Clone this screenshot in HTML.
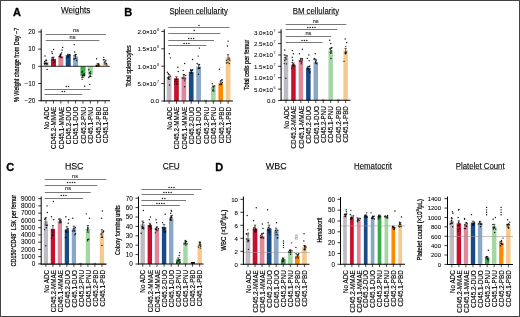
<!DOCTYPE html>
<html><head><meta charset="utf-8"><style>html,body{margin:0;padding:0;background:#fff;}svg{display:block;will-change:transform;}</style></head>
<body><svg width="520" height="317" viewBox="0 0 520 317" font-family='"Liberation Sans", sans-serif'>
<rect x="0" y="0" width="520" height="317" fill="#fff"/>
<text x="13.00" y="15.90" font-size="11" text-anchor="start" font-weight="bold" fill="#000" stroke="#000" stroke-width="0.3">A</text>
<text x="124.30" y="15.90" font-size="11" text-anchor="start" font-weight="bold" fill="#000" stroke="#000" stroke-width="0.3">B</text>
<text x="6.30" y="170.60" font-size="11" text-anchor="start" font-weight="bold" fill="#000" stroke="#000" stroke-width="0.3">C</text>
<text x="215.20" y="170.60" font-size="11" text-anchor="start" font-weight="bold" fill="#000" stroke="#000" stroke-width="0.3">D</text>
<rect x="43.60" y="62.00" width="5.00" height="4.30" fill="#bdbcc2"/>
<rect x="50.98" y="58.90" width="5.00" height="7.40" fill="#c8102e"/>
<rect x="58.35" y="55.98" width="5.00" height="10.32" fill="#e0889a"/>
<rect x="65.72" y="55.12" width="5.00" height="11.18" fill="#184b86"/>
<rect x="73.10" y="56.50" width="5.00" height="9.80" fill="#89a8c8"/>
<rect x="80.47" y="66.30" width="5.00" height="9.80" fill="#3aab48"/>
<rect x="87.85" y="66.30" width="5.00" height="8.60" fill="#a3d7a3"/>
<rect x="95.22" y="64.58" width="5.00" height="1.72" fill="#ff8a00"/>
<rect x="102.60" y="62.86" width="5.00" height="3.44" fill="#f7c98c"/>
<circle cx="44.96" cy="55.98" r="0.72" fill="#151515"/>
<circle cx="46.14" cy="59.94" r="0.72" fill="#151515"/>
<circle cx="46.57" cy="63.89" r="0.72" fill="#151515"/>
<circle cx="47.15" cy="69.40" r="0.72" fill="#151515"/>
<circle cx="44.64" cy="63.97" r="0.72" fill="#151515"/>
<circle cx="45.39" cy="63.41" r="0.72" fill="#151515"/>
<circle cx="44.63" cy="61.53" r="0.72" fill="#151515"/>
<circle cx="47.21" cy="63.90" r="0.72" fill="#151515"/>
<circle cx="46.80" cy="63.68" r="0.72" fill="#151515"/>
<circle cx="44.45" cy="63.27" r="0.72" fill="#151515"/>
<line x1="46.10" y1="60.48" x2="46.10" y2="63.52" stroke="#000" stroke-width="0.6"/>
<line x1="44.90" y1="60.48" x2="47.30" y2="60.48" stroke="#000" stroke-width="0.6"/>
<line x1="44.90" y1="63.52" x2="47.30" y2="63.52" stroke="#000" stroke-width="0.6"/>
<circle cx="53.58" cy="49.44" r="0.72" fill="#151515"/>
<circle cx="51.89" cy="51.68" r="0.72" fill="#151515"/>
<circle cx="52.36" cy="53.57" r="0.72" fill="#151515"/>
<circle cx="52.55" cy="57.79" r="0.72" fill="#151515"/>
<circle cx="51.78" cy="57.88" r="0.72" fill="#151515"/>
<circle cx="53.35" cy="59.49" r="0.72" fill="#151515"/>
<circle cx="53.26" cy="59.68" r="0.72" fill="#151515"/>
<circle cx="54.71" cy="62.05" r="0.72" fill="#151515"/>
<circle cx="53.54" cy="62.78" r="0.72" fill="#151515"/>
<line x1="53.48" y1="57.08" x2="53.48" y2="60.73" stroke="#000" stroke-width="0.6"/>
<line x1="52.27" y1="57.08" x2="54.68" y2="57.08" stroke="#000" stroke-width="0.6"/>
<line x1="52.27" y1="60.73" x2="54.68" y2="60.73" stroke="#000" stroke-width="0.6"/>
<circle cx="62.63" cy="47.38" r="0.72" fill="#151515"/>
<circle cx="62.07" cy="49.96" r="0.72" fill="#151515"/>
<circle cx="61.60" cy="52.88" r="0.72" fill="#151515"/>
<circle cx="60.18" cy="55.81" r="0.72" fill="#151515"/>
<circle cx="59.88" cy="56.41" r="0.72" fill="#151515"/>
<circle cx="60.09" cy="55.71" r="0.72" fill="#151515"/>
<circle cx="59.30" cy="56.59" r="0.72" fill="#151515"/>
<circle cx="61.81" cy="57.36" r="0.72" fill="#151515"/>
<circle cx="60.49" cy="54.27" r="0.72" fill="#151515"/>
<line x1="60.85" y1="54.16" x2="60.85" y2="57.80" stroke="#000" stroke-width="0.6"/>
<line x1="59.65" y1="54.16" x2="62.05" y2="54.16" stroke="#000" stroke-width="0.6"/>
<line x1="59.65" y1="57.80" x2="62.05" y2="57.80" stroke="#000" stroke-width="0.6"/>
<circle cx="69.70" cy="55.08" r="0.72" fill="#151515"/>
<circle cx="68.12" cy="56.50" r="0.72" fill="#151515"/>
<circle cx="69.95" cy="54.73" r="0.72" fill="#151515"/>
<circle cx="67.86" cy="55.08" r="0.72" fill="#151515"/>
<circle cx="66.69" cy="57.70" r="0.72" fill="#151515"/>
<circle cx="68.69" cy="57.05" r="0.72" fill="#151515"/>
<line x1="68.22" y1="54.21" x2="68.22" y2="56.03" stroke="#000" stroke-width="0.6"/>
<line x1="67.02" y1="54.21" x2="69.42" y2="54.21" stroke="#000" stroke-width="0.6"/>
<line x1="67.02" y1="56.03" x2="69.42" y2="56.03" stroke="#000" stroke-width="0.6"/>
<circle cx="74.22" cy="44.63" r="0.72" fill="#151515"/>
<circle cx="74.69" cy="52.02" r="0.72" fill="#151515"/>
<circle cx="74.16" cy="55.78" r="0.72" fill="#151515"/>
<circle cx="74.02" cy="59.28" r="0.72" fill="#151515"/>
<circle cx="76.67" cy="60.54" r="0.72" fill="#151515"/>
<circle cx="74.44" cy="58.85" r="0.72" fill="#151515"/>
<circle cx="75.81" cy="54.51" r="0.72" fill="#151515"/>
<circle cx="75.41" cy="55.92" r="0.72" fill="#151515"/>
<line x1="75.60" y1="54.37" x2="75.60" y2="58.62" stroke="#000" stroke-width="0.6"/>
<line x1="74.40" y1="54.37" x2="76.80" y2="54.37" stroke="#000" stroke-width="0.6"/>
<line x1="74.40" y1="58.62" x2="76.80" y2="58.62" stroke="#000" stroke-width="0.6"/>
<circle cx="81.94" cy="77.31" r="0.72" fill="#151515"/>
<circle cx="82.15" cy="79.37" r="0.72" fill="#151515"/>
<circle cx="84.67" cy="86.25" r="0.72" fill="#151515"/>
<circle cx="84.07" cy="75.31" r="0.72" fill="#151515"/>
<circle cx="82.27" cy="71.58" r="0.72" fill="#151515"/>
<circle cx="84.36" cy="75.72" r="0.72" fill="#151515"/>
<circle cx="81.93" cy="72.19" r="0.72" fill="#151515"/>
<circle cx="82.59" cy="75.82" r="0.72" fill="#151515"/>
<circle cx="84.25" cy="73.73" r="0.72" fill="#151515"/>
<line x1="82.97" y1="74.58" x2="82.97" y2="77.62" stroke="#000" stroke-width="0.6"/>
<line x1="81.77" y1="74.58" x2="84.17" y2="74.58" stroke="#000" stroke-width="0.6"/>
<line x1="81.77" y1="77.62" x2="84.17" y2="77.62" stroke="#000" stroke-width="0.6"/>
<circle cx="89.73" cy="84.36" r="0.72" fill="#151515"/>
<circle cx="89.62" cy="72.82" r="0.72" fill="#151515"/>
<circle cx="88.81" cy="77.48" r="0.72" fill="#151515"/>
<circle cx="88.87" cy="69.83" r="0.72" fill="#151515"/>
<circle cx="90.65" cy="76.51" r="0.72" fill="#151515"/>
<circle cx="89.42" cy="76.12" r="0.72" fill="#151515"/>
<circle cx="90.71" cy="71.69" r="0.72" fill="#151515"/>
<line x1="90.35" y1="73.38" x2="90.35" y2="76.42" stroke="#000" stroke-width="0.6"/>
<line x1="89.15" y1="73.38" x2="91.55" y2="73.38" stroke="#000" stroke-width="0.6"/>
<line x1="89.15" y1="76.42" x2="91.55" y2="76.42" stroke="#000" stroke-width="0.6"/>
<circle cx="96.58" cy="58.73" r="0.72" fill="#151515"/>
<circle cx="96.48" cy="66.38" r="0.72" fill="#151515"/>
<circle cx="99.20" cy="66.06" r="0.72" fill="#151515"/>
<circle cx="98.87" cy="64.05" r="0.72" fill="#151515"/>
<circle cx="96.82" cy="65.93" r="0.72" fill="#151515"/>
<circle cx="96.61" cy="65.57" r="0.72" fill="#151515"/>
<circle cx="98.59" cy="64.42" r="0.72" fill="#151515"/>
<line x1="97.72" y1="63.36" x2="97.72" y2="65.80" stroke="#000" stroke-width="0.6"/>
<line x1="96.52" y1="63.36" x2="98.92" y2="63.36" stroke="#000" stroke-width="0.6"/>
<line x1="96.52" y1="65.80" x2="98.92" y2="65.80" stroke="#000" stroke-width="0.6"/>
<circle cx="103.67" cy="57.36" r="0.72" fill="#151515"/>
<circle cx="103.44" cy="59.83" r="0.72" fill="#151515"/>
<circle cx="106.77" cy="64.95" r="0.72" fill="#151515"/>
<circle cx="104.16" cy="59.76" r="0.72" fill="#151515"/>
<circle cx="105.84" cy="60.23" r="0.72" fill="#151515"/>
<circle cx="104.23" cy="62.15" r="0.72" fill="#151515"/>
<circle cx="106.27" cy="63.40" r="0.72" fill="#151515"/>
<line x1="105.10" y1="61.64" x2="105.10" y2="64.08" stroke="#000" stroke-width="0.6"/>
<line x1="103.90" y1="61.64" x2="106.30" y2="61.64" stroke="#000" stroke-width="0.6"/>
<line x1="103.90" y1="64.08" x2="106.30" y2="64.08" stroke="#000" stroke-width="0.6"/>
<line x1="41.20" y1="66.30" x2="109.80" y2="66.30" stroke="#000" stroke-width="0.8"/>
<line x1="41.20" y1="29.30" x2="41.20" y2="101.30" stroke="#000" stroke-width="1.0"/>
<line x1="40.70" y1="100.80" x2="110.00" y2="100.80" stroke="#000" stroke-width="1.05"/>
<line x1="38.20" y1="31.90" x2="41.20" y2="31.90" stroke="#000" stroke-width="0.8"/>
<text x="35.40" y="34.20" font-size="6.4" text-anchor="end" font-weight="normal" fill="#000" stroke="#000" stroke-width="0.06">20</text>
<line x1="38.20" y1="49.10" x2="41.20" y2="49.10" stroke="#000" stroke-width="0.8"/>
<text x="35.40" y="51.40" font-size="6.4" text-anchor="end" font-weight="normal" fill="#000" stroke="#000" stroke-width="0.06">10</text>
<line x1="38.20" y1="66.30" x2="41.20" y2="66.30" stroke="#000" stroke-width="0.8"/>
<text x="35.40" y="68.60" font-size="6.4" text-anchor="end" font-weight="normal" fill="#000" stroke="#000" stroke-width="0.06">0</text>
<line x1="38.20" y1="83.50" x2="41.20" y2="83.50" stroke="#000" stroke-width="0.8"/>
<text x="35.40" y="85.80" font-size="6.4" text-anchor="end" font-weight="normal" fill="#000" stroke="#000" stroke-width="0.06">−10</text>
<line x1="38.20" y1="100.70" x2="41.20" y2="100.70" stroke="#000" stroke-width="0.8"/>
<text x="35.40" y="103.00" font-size="6.4" text-anchor="end" font-weight="normal" fill="#000" stroke="#000" stroke-width="0.06">−20</text>
<line x1="46.10" y1="100.80" x2="46.10" y2="103.60" stroke="#000" stroke-width="0.7"/>
<line x1="53.48" y1="100.80" x2="53.48" y2="103.60" stroke="#000" stroke-width="0.7"/>
<line x1="60.85" y1="100.80" x2="60.85" y2="103.60" stroke="#000" stroke-width="0.7"/>
<line x1="68.22" y1="100.80" x2="68.22" y2="103.60" stroke="#000" stroke-width="0.7"/>
<line x1="75.60" y1="100.80" x2="75.60" y2="103.60" stroke="#000" stroke-width="0.7"/>
<line x1="82.97" y1="100.80" x2="82.97" y2="103.60" stroke="#000" stroke-width="0.7"/>
<line x1="90.35" y1="100.80" x2="90.35" y2="103.60" stroke="#000" stroke-width="0.7"/>
<line x1="97.72" y1="100.80" x2="97.72" y2="103.60" stroke="#000" stroke-width="0.7"/>
<line x1="105.10" y1="100.80" x2="105.10" y2="103.60" stroke="#000" stroke-width="0.7"/>
<text x="48.90" y="106.70" font-size="6.3" text-anchor="end" font-weight="normal" fill="#000" transform="rotate(-90 48.90 106.70)" stroke="#000" stroke-width="0.15">No ADC</text>
<text x="56.27" y="106.70" font-size="6.3" text-anchor="end" font-weight="normal" fill="#000" transform="rotate(-90 56.27 106.70)" stroke="#000" stroke-width="0.15">CD45.2-MMAE</text>
<text x="63.65" y="106.70" font-size="6.3" text-anchor="end" font-weight="normal" fill="#000" transform="rotate(-90 63.65 106.70)" stroke="#000" stroke-width="0.15">CD45.1-MMAE</text>
<text x="71.02" y="106.70" font-size="6.3" text-anchor="end" font-weight="normal" fill="#000" transform="rotate(-90 71.02 106.70)" stroke="#000" stroke-width="0.15">CD45.2-DUO</text>
<text x="78.40" y="106.70" font-size="6.3" text-anchor="end" font-weight="normal" fill="#000" transform="rotate(-90 78.40 106.70)" stroke="#000" stroke-width="0.15">CD45.1-DUO</text>
<text x="85.77" y="106.70" font-size="6.3" text-anchor="end" font-weight="normal" fill="#000" transform="rotate(-90 85.77 106.70)" stroke="#000" stroke-width="0.15">CD45.2-PNU</text>
<text x="93.15" y="106.70" font-size="6.3" text-anchor="end" font-weight="normal" fill="#000" transform="rotate(-90 93.15 106.70)" stroke="#000" stroke-width="0.15">CD45.1-PNU</text>
<text x="100.52" y="106.70" font-size="6.3" text-anchor="end" font-weight="normal" fill="#000" transform="rotate(-90 100.52 106.70)" stroke="#000" stroke-width="0.15">CD45.2-PBD</text>
<text x="107.90" y="106.70" font-size="6.3" text-anchor="end" font-weight="normal" fill="#000" transform="rotate(-90 107.90 106.70)" stroke="#000" stroke-width="0.15">CD45.1-PBD</text>
<text x="61.00" y="13.20" font-size="8.3" text-anchor="start" font-weight="normal" fill="#000" textLength="29.30" lengthAdjust="spacingAndGlyphs" stroke="#000" stroke-width="0.1">Weights</text>
<line x1="61.30" y1="13.80" x2="90.00" y2="13.80" stroke="#888" stroke-width="0.7"/>
<text x="19.20" y="64.85" font-size="6.8" text-anchor="middle" font-weight="normal" fill="#000" textLength="74.50" lengthAdjust="spacingAndGlyphs" transform="rotate(-90 19.20 64.85)" stroke="#000" stroke-width="0.22">% Weight change from Day −7</text>
<line x1="45.70" y1="34.50" x2="106.00" y2="34.50" stroke="#7a7a7a" stroke-width="1.0"/>
<text x="76.00" y="32.40" font-size="5.6" text-anchor="middle" font-weight="normal" fill="#333" stroke="#333" stroke-width="0.15">ns</text>
<line x1="45.70" y1="40.50" x2="99.40" y2="40.50" stroke="#7a7a7a" stroke-width="1.0"/>
<text x="72.50" y="38.50" font-size="5.6" text-anchor="middle" font-weight="normal" fill="#333" stroke="#333" stroke-width="0.15">ns</text>
<line x1="44.50" y1="89.50" x2="90.50" y2="89.50" stroke="#7a7a7a" stroke-width="1.0"/>
<circle cx="66.30" cy="86.50" r="0.78" fill="#222"/>
<circle cx="68.50" cy="86.50" r="0.78" fill="#222"/>
<line x1="44.50" y1="94.50" x2="82.30" y2="94.50" stroke="#7a7a7a" stroke-width="1.0"/>
<circle cx="62.30" cy="91.50" r="0.78" fill="#222"/>
<circle cx="64.50" cy="91.50" r="0.78" fill="#222"/>
<rect x="166.75" y="76.99" width="4.70" height="24.01" fill="#bdbcc2"/>
<rect x="174.12" y="78.21" width="4.70" height="22.79" fill="#c8102e"/>
<rect x="181.50" y="76.64" width="4.70" height="24.36" fill="#e0889a"/>
<rect x="188.88" y="71.77" width="4.70" height="29.23" fill="#184b86"/>
<rect x="196.25" y="66.55" width="4.70" height="34.45" fill="#89a8c8"/>
<rect x="211.00" y="87.08" width="4.70" height="13.92" fill="#a3d7a3"/>
<rect x="218.38" y="83.25" width="4.70" height="17.75" fill="#ff8a00"/>
<rect x="225.75" y="57.15" width="4.70" height="43.85" fill="#f7c98c"/>
<circle cx="169.31" cy="53.67" r="0.72" fill="#151515"/>
<circle cx="170.37" cy="57.85" r="0.72" fill="#151515"/>
<circle cx="169.51" cy="84.99" r="0.72" fill="#151515"/>
<circle cx="168.31" cy="73.47" r="0.72" fill="#151515"/>
<circle cx="170.60" cy="76.32" r="0.72" fill="#151515"/>
<circle cx="168.03" cy="77.43" r="0.72" fill="#151515"/>
<circle cx="167.36" cy="72.31" r="0.72" fill="#151515"/>
<circle cx="168.27" cy="78.43" r="0.72" fill="#151515"/>
<circle cx="168.90" cy="76.93" r="0.72" fill="#151515"/>
<line x1="169.10" y1="74.53" x2="169.10" y2="79.45" stroke="#000" stroke-width="0.6"/>
<line x1="167.90" y1="74.53" x2="170.30" y2="74.53" stroke="#000" stroke-width="0.6"/>
<line x1="167.90" y1="79.45" x2="170.30" y2="79.45" stroke="#000" stroke-width="0.6"/>
<circle cx="177.88" cy="67.24" r="0.72" fill="#151515"/>
<circle cx="178.20" cy="71.42" r="0.72" fill="#151515"/>
<circle cx="177.04" cy="84.47" r="0.72" fill="#151515"/>
<circle cx="177.16" cy="83.46" r="0.72" fill="#151515"/>
<circle cx="176.78" cy="81.78" r="0.72" fill="#151515"/>
<circle cx="175.18" cy="80.01" r="0.72" fill="#151515"/>
<circle cx="174.80" cy="83.85" r="0.72" fill="#151515"/>
<circle cx="174.74" cy="81.84" r="0.72" fill="#151515"/>
<line x1="176.47" y1="76.73" x2="176.47" y2="79.68" stroke="#000" stroke-width="0.6"/>
<line x1="175.28" y1="76.73" x2="177.67" y2="76.73" stroke="#000" stroke-width="0.6"/>
<line x1="175.28" y1="79.68" x2="177.67" y2="79.68" stroke="#000" stroke-width="0.6"/>
<circle cx="184.68" cy="63.42" r="0.72" fill="#151515"/>
<circle cx="183.20" cy="70.38" r="0.72" fill="#151515"/>
<circle cx="185.65" cy="75.36" r="0.72" fill="#151515"/>
<circle cx="182.32" cy="78.05" r="0.72" fill="#151515"/>
<circle cx="184.02" cy="74.68" r="0.72" fill="#151515"/>
<circle cx="184.70" cy="86.81" r="0.72" fill="#151515"/>
<circle cx="185.29" cy="78.89" r="0.72" fill="#151515"/>
<circle cx="184.70" cy="80.87" r="0.72" fill="#151515"/>
<line x1="183.85" y1="74.55" x2="183.85" y2="78.73" stroke="#000" stroke-width="0.6"/>
<line x1="182.65" y1="74.55" x2="185.05" y2="74.55" stroke="#000" stroke-width="0.6"/>
<line x1="182.65" y1="78.73" x2="185.05" y2="78.73" stroke="#000" stroke-width="0.6"/>
<circle cx="192.56" cy="59.59" r="0.72" fill="#151515"/>
<circle cx="190.93" cy="70.78" r="0.72" fill="#151515"/>
<circle cx="192.27" cy="70.34" r="0.72" fill="#151515"/>
<circle cx="192.53" cy="69.75" r="0.72" fill="#151515"/>
<circle cx="191.49" cy="72.49" r="0.72" fill="#151515"/>
<circle cx="191.67" cy="70.87" r="0.72" fill="#151515"/>
<circle cx="190.80" cy="69.82" r="0.72" fill="#151515"/>
<line x1="191.22" y1="70.29" x2="191.22" y2="73.24" stroke="#000" stroke-width="0.6"/>
<line x1="190.03" y1="70.29" x2="192.42" y2="70.29" stroke="#000" stroke-width="0.6"/>
<line x1="190.03" y1="73.24" x2="192.42" y2="73.24" stroke="#000" stroke-width="0.6"/>
<circle cx="199.42" cy="48.10" r="0.72" fill="#151515"/>
<circle cx="198.20" cy="56.11" r="0.72" fill="#151515"/>
<circle cx="199.45" cy="68.35" r="0.72" fill="#151515"/>
<circle cx="198.89" cy="68.04" r="0.72" fill="#151515"/>
<circle cx="198.39" cy="74.30" r="0.72" fill="#151515"/>
<circle cx="199.82" cy="67.68" r="0.72" fill="#151515"/>
<circle cx="197.10" cy="63.50" r="0.72" fill="#151515"/>
<circle cx="199.50" cy="64.84" r="0.72" fill="#151515"/>
<line x1="198.60" y1="64.33" x2="198.60" y2="68.76" stroke="#000" stroke-width="0.6"/>
<line x1="197.40" y1="64.33" x2="199.80" y2="64.33" stroke="#000" stroke-width="0.6"/>
<line x1="197.40" y1="68.76" x2="199.80" y2="68.76" stroke="#000" stroke-width="0.6"/>
<circle cx="204.56" cy="100.38" r="0.55" fill="#3aab48"/>
<circle cx="205.92" cy="100.64" r="0.55" fill="#3aab48"/>
<circle cx="206.57" cy="100.45" r="0.55" fill="#3aab48"/>
<circle cx="206.32" cy="100.16" r="0.55" fill="#3aab48"/>
<circle cx="205.24" cy="100.79" r="0.55" fill="#3aab48"/>
<circle cx="213.14" cy="89.71" r="0.72" fill="#151515"/>
<circle cx="214.76" cy="86.04" r="0.72" fill="#151515"/>
<circle cx="212.73" cy="90.67" r="0.72" fill="#151515"/>
<circle cx="213.95" cy="91.00" r="0.72" fill="#151515"/>
<circle cx="212.26" cy="83.82" r="0.72" fill="#151515"/>
<circle cx="213.10" cy="86.22" r="0.72" fill="#151515"/>
<line x1="213.35" y1="86.10" x2="213.35" y2="88.06" stroke="#000" stroke-width="0.6"/>
<line x1="212.15" y1="86.10" x2="214.55" y2="86.10" stroke="#000" stroke-width="0.6"/>
<line x1="212.15" y1="88.06" x2="214.55" y2="88.06" stroke="#000" stroke-width="0.6"/>
<circle cx="219.42" cy="69.33" r="0.72" fill="#151515"/>
<circle cx="220.71" cy="80.63" r="0.72" fill="#151515"/>
<circle cx="221.94" cy="79.76" r="0.72" fill="#151515"/>
<circle cx="221.98" cy="80.03" r="0.72" fill="#151515"/>
<circle cx="221.49" cy="84.00" r="0.72" fill="#151515"/>
<circle cx="222.35" cy="82.41" r="0.72" fill="#151515"/>
<circle cx="219.92" cy="84.55" r="0.72" fill="#151515"/>
<line x1="220.72" y1="81.78" x2="220.72" y2="84.73" stroke="#000" stroke-width="0.6"/>
<line x1="219.53" y1="81.78" x2="221.92" y2="81.78" stroke="#000" stroke-width="0.6"/>
<line x1="219.53" y1="84.73" x2="221.92" y2="84.73" stroke="#000" stroke-width="0.6"/>
<circle cx="228.08" cy="41.14" r="0.72" fill="#151515"/>
<circle cx="227.44" cy="46.02" r="0.72" fill="#151515"/>
<circle cx="229.32" cy="63.50" r="0.72" fill="#151515"/>
<circle cx="229.84" cy="60.17" r="0.72" fill="#151515"/>
<circle cx="227.93" cy="62.25" r="0.72" fill="#151515"/>
<circle cx="226.57" cy="62.97" r="0.72" fill="#151515"/>
<circle cx="226.41" cy="60.61" r="0.72" fill="#151515"/>
<circle cx="229.44" cy="58.10" r="0.72" fill="#151515"/>
<line x1="228.10" y1="54.69" x2="228.10" y2="59.61" stroke="#000" stroke-width="0.6"/>
<line x1="226.90" y1="54.69" x2="229.30" y2="54.69" stroke="#000" stroke-width="0.6"/>
<line x1="226.90" y1="59.61" x2="229.30" y2="59.61" stroke="#000" stroke-width="0.6"/>
<line x1="164.30" y1="29.30" x2="164.30" y2="101.50" stroke="#000" stroke-width="1.0"/>
<line x1="163.80" y1="101.00" x2="233.00" y2="101.00" stroke="#000" stroke-width="1.05"/>
<line x1="161.30" y1="101.00" x2="164.30" y2="101.00" stroke="#000" stroke-width="0.8"/>
<text x="159.00" y="103.30" font-size="6.2" text-anchor="end" font-weight="normal" fill="#000" stroke="#000" stroke-width="0.06">0.0</text>
<line x1="161.30" y1="83.60" x2="164.30" y2="83.60" stroke="#000" stroke-width="0.8"/>
<text x="156.50" y="86.00" font-size="6.2" text-anchor="end" font-weight="normal" fill="#000" stroke="#000" stroke-width="0.06">5.0×10</text>
<text x="159.00" y="83.00" font-size="3.6" text-anchor="end" font-weight="normal" fill="#000">7</text>
<line x1="161.30" y1="66.20" x2="164.30" y2="66.20" stroke="#000" stroke-width="0.8"/>
<text x="156.50" y="68.60" font-size="6.2" text-anchor="end" font-weight="normal" fill="#000" stroke="#000" stroke-width="0.06">1.0×10</text>
<text x="159.00" y="65.60" font-size="3.6" text-anchor="end" font-weight="normal" fill="#000">8</text>
<line x1="161.30" y1="48.80" x2="164.30" y2="48.80" stroke="#000" stroke-width="0.8"/>
<text x="156.50" y="51.20" font-size="6.2" text-anchor="end" font-weight="normal" fill="#000" stroke="#000" stroke-width="0.06">1.5×10</text>
<text x="159.00" y="48.20" font-size="3.6" text-anchor="end" font-weight="normal" fill="#000">8</text>
<line x1="161.30" y1="31.40" x2="164.30" y2="31.40" stroke="#000" stroke-width="0.8"/>
<text x="156.50" y="33.80" font-size="6.2" text-anchor="end" font-weight="normal" fill="#000" stroke="#000" stroke-width="0.06">2.0×10</text>
<text x="159.00" y="30.80" font-size="3.6" text-anchor="end" font-weight="normal" fill="#000">8</text>
<line x1="169.10" y1="101.00" x2="169.10" y2="103.80" stroke="#000" stroke-width="0.7"/>
<line x1="176.47" y1="101.00" x2="176.47" y2="103.80" stroke="#000" stroke-width="0.7"/>
<line x1="183.85" y1="101.00" x2="183.85" y2="103.80" stroke="#000" stroke-width="0.7"/>
<line x1="191.22" y1="101.00" x2="191.22" y2="103.80" stroke="#000" stroke-width="0.7"/>
<line x1="198.60" y1="101.00" x2="198.60" y2="103.80" stroke="#000" stroke-width="0.7"/>
<line x1="205.97" y1="101.00" x2="205.97" y2="103.80" stroke="#000" stroke-width="0.7"/>
<line x1="213.35" y1="101.00" x2="213.35" y2="103.80" stroke="#000" stroke-width="0.7"/>
<line x1="220.72" y1="101.00" x2="220.72" y2="103.80" stroke="#000" stroke-width="0.7"/>
<line x1="228.10" y1="101.00" x2="228.10" y2="103.80" stroke="#000" stroke-width="0.7"/>
<text x="171.90" y="106.90" font-size="6.3" text-anchor="end" font-weight="normal" fill="#000" transform="rotate(-90 171.90 106.90)" stroke="#000" stroke-width="0.15">No ADC</text>
<text x="179.28" y="106.90" font-size="6.3" text-anchor="end" font-weight="normal" fill="#000" transform="rotate(-90 179.28 106.90)" stroke="#000" stroke-width="0.15">CD45.2-MMAE</text>
<text x="186.65" y="106.90" font-size="6.3" text-anchor="end" font-weight="normal" fill="#000" transform="rotate(-90 186.65 106.90)" stroke="#000" stroke-width="0.15">CD45.1-MMAE</text>
<text x="194.03" y="106.90" font-size="6.3" text-anchor="end" font-weight="normal" fill="#000" transform="rotate(-90 194.03 106.90)" stroke="#000" stroke-width="0.15">CD45.2-DUO</text>
<text x="201.40" y="106.90" font-size="6.3" text-anchor="end" font-weight="normal" fill="#000" transform="rotate(-90 201.40 106.90)" stroke="#000" stroke-width="0.15">CD45.1-DUO</text>
<text x="208.78" y="106.90" font-size="6.3" text-anchor="end" font-weight="normal" fill="#000" transform="rotate(-90 208.78 106.90)" stroke="#000" stroke-width="0.15">CD45.2-PNU</text>
<text x="216.15" y="106.90" font-size="6.3" text-anchor="end" font-weight="normal" fill="#000" transform="rotate(-90 216.15 106.90)" stroke="#000" stroke-width="0.15">CD45.1-PNU</text>
<text x="223.53" y="106.90" font-size="6.3" text-anchor="end" font-weight="normal" fill="#000" transform="rotate(-90 223.53 106.90)" stroke="#000" stroke-width="0.15">CD45.2-PBD</text>
<text x="230.90" y="106.90" font-size="6.3" text-anchor="end" font-weight="normal" fill="#000" transform="rotate(-90 230.90 106.90)" stroke="#000" stroke-width="0.15">CD45.1-PBD</text>
<text x="169.40" y="13.70" font-size="8.3" text-anchor="start" font-weight="normal" fill="#000" textLength="58.50" lengthAdjust="spacingAndGlyphs" stroke="#000" stroke-width="0.1">Spleen cellularity</text>
<line x1="169.70" y1="14.30" x2="227.60" y2="14.30" stroke="#888" stroke-width="0.7"/>
<text x="130.90" y="65.95" font-size="6.8" text-anchor="middle" font-weight="normal" fill="#000" textLength="41.50" lengthAdjust="spacingAndGlyphs" transform="rotate(-90 130.90 65.95)" stroke="#000" stroke-width="0.22">Total splenocytes</text>
<line x1="168.30" y1="27.50" x2="229.70" y2="27.50" stroke="#7a7a7a" stroke-width="1.0"/>
<circle cx="199.00" cy="25.50" r="0.78" fill="#222"/>
<line x1="168.30" y1="33.50" x2="220.30" y2="33.50" stroke="#7a7a7a" stroke-width="1.0"/>
<circle cx="194.30" cy="30.50" r="0.78" fill="#222"/>
<line x1="168.30" y1="40.50" x2="214.00" y2="40.50" stroke="#7a7a7a" stroke-width="1.0"/>
<circle cx="188.80" cy="38.50" r="0.78" fill="#222"/>
<circle cx="191.20" cy="38.50" r="0.78" fill="#222"/>
<circle cx="193.60" cy="38.50" r="0.78" fill="#222"/>
<line x1="168.30" y1="45.50" x2="206.40" y2="45.50" stroke="#7a7a7a" stroke-width="1.0"/>
<circle cx="184.10" cy="43.50" r="0.78" fill="#222"/>
<circle cx="186.50" cy="43.50" r="0.78" fill="#222"/>
<circle cx="188.90" cy="43.50" r="0.78" fill="#222"/>
<rect x="283.75" y="57.24" width="4.50" height="43.26" fill="#bdbcc2"/>
<rect x="291.20" y="64.76" width="4.50" height="35.74" fill="#c8102e"/>
<rect x="298.65" y="59.98" width="4.50" height="40.52" fill="#e0889a"/>
<rect x="306.10" y="67.94" width="4.50" height="32.56" fill="#184b86"/>
<rect x="313.55" y="62.02" width="4.50" height="38.48" fill="#89a8c8"/>
<rect x="328.45" y="50.41" width="4.50" height="50.09" fill="#a3d7a3"/>
<rect x="343.35" y="50.41" width="4.50" height="50.09" fill="#f7c98c"/>
<circle cx="284.69" cy="49.96" r="0.72" fill="#151515"/>
<circle cx="285.84" cy="78.19" r="0.72" fill="#151515"/>
<circle cx="284.29" cy="63.60" r="0.72" fill="#151515"/>
<circle cx="287.19" cy="56.01" r="0.72" fill="#151515"/>
<circle cx="285.05" cy="57.58" r="0.72" fill="#151515"/>
<circle cx="284.71" cy="60.56" r="0.72" fill="#151515"/>
<circle cx="284.37" cy="55.06" r="0.72" fill="#151515"/>
<circle cx="286.47" cy="63.86" r="0.72" fill="#151515"/>
<line x1="286.00" y1="55.23" x2="286.00" y2="59.26" stroke="#000" stroke-width="0.6"/>
<line x1="284.80" y1="55.23" x2="287.20" y2="55.23" stroke="#000" stroke-width="0.6"/>
<line x1="284.80" y1="59.26" x2="287.20" y2="59.26" stroke="#000" stroke-width="0.6"/>
<circle cx="292.37" cy="50.41" r="0.72" fill="#151515"/>
<circle cx="293.36" cy="53.83" r="0.72" fill="#151515"/>
<circle cx="292.29" cy="57.24" r="0.72" fill="#151515"/>
<circle cx="291.69" cy="68.34" r="0.72" fill="#151515"/>
<circle cx="293.35" cy="65.42" r="0.72" fill="#151515"/>
<circle cx="294.22" cy="65.02" r="0.72" fill="#151515"/>
<circle cx="292.29" cy="62.59" r="0.72" fill="#151515"/>
<circle cx="292.63" cy="60.18" r="0.72" fill="#151515"/>
<circle cx="292.89" cy="64.55" r="0.72" fill="#151515"/>
<line x1="293.45" y1="63.15" x2="293.45" y2="66.37" stroke="#000" stroke-width="0.6"/>
<line x1="292.25" y1="63.15" x2="294.65" y2="63.15" stroke="#000" stroke-width="0.6"/>
<line x1="292.25" y1="66.37" x2="294.65" y2="66.37" stroke="#000" stroke-width="0.6"/>
<circle cx="302.36" cy="49.28" r="0.72" fill="#151515"/>
<circle cx="299.41" cy="53.83" r="0.72" fill="#151515"/>
<circle cx="302.46" cy="59.90" r="0.72" fill="#151515"/>
<circle cx="301.70" cy="62.11" r="0.72" fill="#151515"/>
<circle cx="299.57" cy="60.93" r="0.72" fill="#151515"/>
<circle cx="300.73" cy="59.16" r="0.72" fill="#151515"/>
<circle cx="301.35" cy="63.70" r="0.72" fill="#151515"/>
<circle cx="302.38" cy="58.71" r="0.72" fill="#151515"/>
<line x1="300.90" y1="58.37" x2="300.90" y2="61.59" stroke="#000" stroke-width="0.6"/>
<line x1="299.70" y1="58.37" x2="302.10" y2="58.37" stroke="#000" stroke-width="0.6"/>
<line x1="299.70" y1="61.59" x2="302.10" y2="61.59" stroke="#000" stroke-width="0.6"/>
<circle cx="308.89" cy="54.97" r="0.72" fill="#151515"/>
<circle cx="307.29" cy="58.38" r="0.72" fill="#151515"/>
<circle cx="309.15" cy="60.66" r="0.72" fill="#151515"/>
<circle cx="309.50" cy="73.02" r="0.72" fill="#151515"/>
<circle cx="308.86" cy="70.61" r="0.72" fill="#151515"/>
<circle cx="309.13" cy="66.72" r="0.72" fill="#151515"/>
<circle cx="307.32" cy="67.76" r="0.72" fill="#151515"/>
<circle cx="309.79" cy="65.91" r="0.72" fill="#151515"/>
<circle cx="310.08" cy="71.93" r="0.72" fill="#151515"/>
<line x1="308.35" y1="66.33" x2="308.35" y2="69.55" stroke="#000" stroke-width="0.6"/>
<line x1="307.15" y1="66.33" x2="309.55" y2="66.33" stroke="#000" stroke-width="0.6"/>
<line x1="307.15" y1="69.55" x2="309.55" y2="69.55" stroke="#000" stroke-width="0.6"/>
<circle cx="315.25" cy="53.83" r="0.72" fill="#151515"/>
<circle cx="314.30" cy="58.56" r="0.72" fill="#151515"/>
<circle cx="315.59" cy="62.07" r="0.72" fill="#151515"/>
<circle cx="315.98" cy="60.05" r="0.72" fill="#151515"/>
<circle cx="316.77" cy="63.80" r="0.72" fill="#151515"/>
<circle cx="315.75" cy="59.10" r="0.72" fill="#151515"/>
<circle cx="314.10" cy="59.53" r="0.72" fill="#151515"/>
<line x1="315.80" y1="60.82" x2="315.80" y2="63.23" stroke="#000" stroke-width="0.6"/>
<line x1="314.60" y1="60.82" x2="317.00" y2="60.82" stroke="#000" stroke-width="0.6"/>
<line x1="314.60" y1="63.23" x2="317.00" y2="63.23" stroke="#000" stroke-width="0.6"/>
<circle cx="324.18" cy="100.26" r="0.55" fill="#3aab48"/>
<circle cx="324.15" cy="100.18" r="0.55" fill="#3aab48"/>
<circle cx="322.76" cy="99.75" r="0.55" fill="#3aab48"/>
<circle cx="322.17" cy="100.20" r="0.55" fill="#3aab48"/>
<circle cx="323.30" cy="99.79" r="0.55" fill="#3aab48"/>
<circle cx="329.70" cy="40.17" r="0.72" fill="#151515"/>
<circle cx="330.80" cy="43.58" r="0.72" fill="#151515"/>
<circle cx="329.94" cy="49.00" r="0.72" fill="#151515"/>
<circle cx="331.52" cy="50.89" r="0.72" fill="#151515"/>
<circle cx="331.20" cy="47.68" r="0.72" fill="#151515"/>
<circle cx="330.78" cy="53.35" r="0.72" fill="#151515"/>
<circle cx="331.94" cy="47.64" r="0.72" fill="#151515"/>
<circle cx="330.92" cy="58.44" r="0.72" fill="#151515"/>
<line x1="330.70" y1="48.40" x2="330.70" y2="52.43" stroke="#000" stroke-width="0.6"/>
<line x1="329.50" y1="48.40" x2="331.90" y2="48.40" stroke="#000" stroke-width="0.6"/>
<line x1="329.50" y1="52.43" x2="331.90" y2="52.43" stroke="#000" stroke-width="0.6"/>
<circle cx="337.59" cy="100.03" r="0.55" fill="#ff8a00"/>
<circle cx="339.19" cy="99.67" r="0.55" fill="#ff8a00"/>
<circle cx="337.27" cy="99.70" r="0.55" fill="#ff8a00"/>
<circle cx="339.56" cy="99.93" r="0.55" fill="#ff8a00"/>
<circle cx="338.37" cy="100.16" r="0.55" fill="#ff8a00"/>
<circle cx="345.24" cy="39.03" r="0.72" fill="#151515"/>
<circle cx="346.68" cy="42.45" r="0.72" fill="#151515"/>
<circle cx="345.83" cy="53.26" r="0.72" fill="#151515"/>
<circle cx="345.57" cy="53.78" r="0.72" fill="#151515"/>
<circle cx="346.29" cy="52.15" r="0.72" fill="#151515"/>
<circle cx="344.04" cy="61.35" r="0.72" fill="#151515"/>
<circle cx="345.74" cy="46.35" r="0.72" fill="#151515"/>
<circle cx="345.29" cy="53.57" r="0.72" fill="#151515"/>
<line x1="345.60" y1="48.40" x2="345.60" y2="52.43" stroke="#000" stroke-width="0.6"/>
<line x1="344.40" y1="48.40" x2="346.80" y2="48.40" stroke="#000" stroke-width="0.6"/>
<line x1="344.40" y1="52.43" x2="346.80" y2="52.43" stroke="#000" stroke-width="0.6"/>
<line x1="281.10" y1="29.30" x2="281.10" y2="100.70" stroke="#000" stroke-width="1.0"/>
<line x1="280.60" y1="100.20" x2="350.50" y2="100.20" stroke="#000" stroke-width="1.05"/>
<line x1="278.10" y1="100.50" x2="281.10" y2="100.50" stroke="#000" stroke-width="0.8"/>
<text x="275.50" y="102.80" font-size="6.2" text-anchor="end" font-weight="normal" fill="#000" stroke="#000" stroke-width="0.06">0.0</text>
<line x1="278.10" y1="89.12" x2="281.10" y2="89.12" stroke="#000" stroke-width="0.8"/>
<text x="273.00" y="91.52" font-size="6.2" text-anchor="end" font-weight="normal" fill="#000" stroke="#000" stroke-width="0.06">5.0×10</text>
<text x="275.50" y="88.52" font-size="3.6" text-anchor="end" font-weight="normal" fill="#000">6</text>
<line x1="278.10" y1="77.73" x2="281.10" y2="77.73" stroke="#000" stroke-width="0.8"/>
<text x="273.00" y="80.13" font-size="6.2" text-anchor="end" font-weight="normal" fill="#000" stroke="#000" stroke-width="0.06">1.0×10</text>
<text x="275.50" y="77.13" font-size="3.6" text-anchor="end" font-weight="normal" fill="#000">7</text>
<line x1="278.10" y1="66.35" x2="281.10" y2="66.35" stroke="#000" stroke-width="0.8"/>
<text x="273.00" y="68.75" font-size="6.2" text-anchor="end" font-weight="normal" fill="#000" stroke="#000" stroke-width="0.06">1.5×10</text>
<text x="275.50" y="65.75" font-size="3.6" text-anchor="end" font-weight="normal" fill="#000">7</text>
<line x1="278.10" y1="54.97" x2="281.10" y2="54.97" stroke="#000" stroke-width="0.8"/>
<text x="273.00" y="57.37" font-size="6.2" text-anchor="end" font-weight="normal" fill="#000" stroke="#000" stroke-width="0.06">2.0×10</text>
<text x="275.50" y="54.37" font-size="3.6" text-anchor="end" font-weight="normal" fill="#000">7</text>
<line x1="278.10" y1="43.58" x2="281.10" y2="43.58" stroke="#000" stroke-width="0.8"/>
<text x="273.00" y="45.98" font-size="6.2" text-anchor="end" font-weight="normal" fill="#000" stroke="#000" stroke-width="0.06">2.5×10</text>
<text x="275.50" y="42.98" font-size="3.6" text-anchor="end" font-weight="normal" fill="#000">7</text>
<line x1="278.10" y1="32.20" x2="281.10" y2="32.20" stroke="#000" stroke-width="0.8"/>
<text x="273.00" y="34.60" font-size="6.2" text-anchor="end" font-weight="normal" fill="#000" stroke="#000" stroke-width="0.06">3.0×10</text>
<text x="275.50" y="31.60" font-size="3.6" text-anchor="end" font-weight="normal" fill="#000">7</text>
<line x1="286.00" y1="100.20" x2="286.00" y2="103.00" stroke="#000" stroke-width="0.7"/>
<line x1="293.45" y1="100.20" x2="293.45" y2="103.00" stroke="#000" stroke-width="0.7"/>
<line x1="300.90" y1="100.20" x2="300.90" y2="103.00" stroke="#000" stroke-width="0.7"/>
<line x1="308.35" y1="100.20" x2="308.35" y2="103.00" stroke="#000" stroke-width="0.7"/>
<line x1="315.80" y1="100.20" x2="315.80" y2="103.00" stroke="#000" stroke-width="0.7"/>
<line x1="323.25" y1="100.20" x2="323.25" y2="103.00" stroke="#000" stroke-width="0.7"/>
<line x1="330.70" y1="100.20" x2="330.70" y2="103.00" stroke="#000" stroke-width="0.7"/>
<line x1="338.15" y1="100.20" x2="338.15" y2="103.00" stroke="#000" stroke-width="0.7"/>
<line x1="345.60" y1="100.20" x2="345.60" y2="103.00" stroke="#000" stroke-width="0.7"/>
<text x="288.80" y="106.10" font-size="6.3" text-anchor="end" font-weight="normal" fill="#000" transform="rotate(-90 288.80 106.10)" stroke="#000" stroke-width="0.15">No ADC</text>
<text x="296.25" y="106.10" font-size="6.3" text-anchor="end" font-weight="normal" fill="#000" transform="rotate(-90 296.25 106.10)" stroke="#000" stroke-width="0.15">CD45.2-MMAE</text>
<text x="303.70" y="106.10" font-size="6.3" text-anchor="end" font-weight="normal" fill="#000" transform="rotate(-90 303.70 106.10)" stroke="#000" stroke-width="0.15">CD45.1-MMAE</text>
<text x="311.15" y="106.10" font-size="6.3" text-anchor="end" font-weight="normal" fill="#000" transform="rotate(-90 311.15 106.10)" stroke="#000" stroke-width="0.15">CD45.2-DUO</text>
<text x="318.60" y="106.10" font-size="6.3" text-anchor="end" font-weight="normal" fill="#000" transform="rotate(-90 318.60 106.10)" stroke="#000" stroke-width="0.15">CD45.1-DUO</text>
<text x="326.05" y="106.10" font-size="6.3" text-anchor="end" font-weight="normal" fill="#000" transform="rotate(-90 326.05 106.10)" stroke="#000" stroke-width="0.15">CD45.2-PNU</text>
<text x="333.50" y="106.10" font-size="6.3" text-anchor="end" font-weight="normal" fill="#000" transform="rotate(-90 333.50 106.10)" stroke="#000" stroke-width="0.15">CD45.1-PNU</text>
<text x="340.95" y="106.10" font-size="6.3" text-anchor="end" font-weight="normal" fill="#000" transform="rotate(-90 340.95 106.10)" stroke="#000" stroke-width="0.15">CD45.2-PBD</text>
<text x="348.40" y="106.10" font-size="6.3" text-anchor="end" font-weight="normal" fill="#000" transform="rotate(-90 348.40 106.10)" stroke="#000" stroke-width="0.15">CD45.1-PBD</text>
<text x="292.70" y="13.70" font-size="8.3" text-anchor="start" font-weight="normal" fill="#000" textLength="46.50" lengthAdjust="spacingAndGlyphs" stroke="#000" stroke-width="0.1">BM cellularity</text>
<line x1="293.00" y1="14.30" x2="338.90" y2="14.30" stroke="#888" stroke-width="0.7"/>
<text x="248.60" y="65.05" font-size="6.8" text-anchor="middle" font-weight="normal" fill="#000" textLength="50.50" lengthAdjust="spacingAndGlyphs" transform="rotate(-90 248.60 65.05)" stroke="#000" stroke-width="0.22">Total cells per femur</text>
<line x1="285.70" y1="24.50" x2="346.40" y2="24.50" stroke="#7a7a7a" stroke-width="1.0"/>
<text x="315.70" y="22.60" font-size="5.6" text-anchor="middle" font-weight="normal" fill="#333" stroke="#333" stroke-width="0.15">ns</text>
<line x1="285.70" y1="29.50" x2="337.20" y2="29.50" stroke="#7a7a7a" stroke-width="1.0"/>
<circle cx="307.80" cy="27.50" r="0.78" fill="#222"/>
<circle cx="310.20" cy="27.50" r="0.78" fill="#222"/>
<circle cx="312.60" cy="27.50" r="0.78" fill="#222"/>
<circle cx="315.00" cy="27.50" r="0.78" fill="#222"/>
<line x1="285.70" y1="36.50" x2="331.10" y2="36.50" stroke="#7a7a7a" stroke-width="1.0"/>
<text x="308.40" y="34.90" font-size="5.6" text-anchor="middle" font-weight="normal" fill="#333" stroke="#333" stroke-width="0.15">ns</text>
<line x1="285.70" y1="42.50" x2="322.50" y2="42.50" stroke="#7a7a7a" stroke-width="1.0"/>
<circle cx="302.00" cy="40.50" r="0.78" fill="#222"/>
<circle cx="304.40" cy="40.50" r="0.78" fill="#222"/>
<circle cx="306.80" cy="40.50" r="0.78" fill="#222"/>
<rect x="43.75" y="221.30" width="4.30" height="42.60" fill="#bdbcc2"/>
<rect x="50.75" y="228.90" width="4.30" height="35.00" fill="#c8102e"/>
<rect x="57.75" y="220.91" width="4.30" height="42.99" fill="#e0889a"/>
<rect x="64.75" y="229.50" width="4.30" height="34.40" fill="#184b86"/>
<rect x="71.75" y="228.50" width="4.30" height="35.40" fill="#89a8c8"/>
<rect x="85.75" y="228.90" width="4.30" height="35.00" fill="#a3d7a3"/>
<rect x="99.75" y="233.60" width="4.30" height="30.30" fill="#f7c98c"/>
<circle cx="47.04" cy="205.90" r="0.72" fill="#151515"/>
<circle cx="47.34" cy="212.42" r="0.72" fill="#151515"/>
<circle cx="45.82" cy="245.77" r="0.72" fill="#151515"/>
<circle cx="45.24" cy="218.79" r="0.72" fill="#151515"/>
<circle cx="44.79" cy="219.22" r="0.72" fill="#151515"/>
<circle cx="46.32" cy="227.76" r="0.72" fill="#151515"/>
<circle cx="47.43" cy="225.10" r="0.72" fill="#151515"/>
<circle cx="44.57" cy="229.62" r="0.72" fill="#151515"/>
<circle cx="46.91" cy="225.62" r="0.72" fill="#151515"/>
<line x1="45.90" y1="217.45" x2="45.90" y2="225.14" stroke="#000" stroke-width="0.6"/>
<line x1="44.70" y1="217.45" x2="47.10" y2="217.45" stroke="#000" stroke-width="0.6"/>
<line x1="44.70" y1="225.14" x2="47.10" y2="225.14" stroke="#000" stroke-width="0.6"/>
<circle cx="53.33" cy="201.55" r="0.72" fill="#151515"/>
<circle cx="51.48" cy="216.77" r="0.72" fill="#151515"/>
<circle cx="53.73" cy="219.67" r="0.72" fill="#151515"/>
<circle cx="51.54" cy="238.24" r="0.72" fill="#151515"/>
<circle cx="52.94" cy="236.13" r="0.72" fill="#151515"/>
<circle cx="52.00" cy="235.72" r="0.72" fill="#151515"/>
<circle cx="51.81" cy="230.06" r="0.72" fill="#151515"/>
<circle cx="53.01" cy="234.56" r="0.72" fill="#151515"/>
<circle cx="52.67" cy="234.15" r="0.72" fill="#151515"/>
<line x1="52.90" y1="225.56" x2="52.90" y2="232.23" stroke="#000" stroke-width="0.6"/>
<line x1="51.70" y1="225.56" x2="54.10" y2="225.56" stroke="#000" stroke-width="0.6"/>
<line x1="51.70" y1="232.23" x2="54.10" y2="232.23" stroke="#000" stroke-width="0.6"/>
<circle cx="60.40" cy="220.85" r="0.72" fill="#151515"/>
<circle cx="60.01" cy="220.60" r="0.72" fill="#151515"/>
<circle cx="61.16" cy="219.85" r="0.72" fill="#151515"/>
<circle cx="60.30" cy="222.26" r="0.72" fill="#151515"/>
<circle cx="61.18" cy="221.97" r="0.72" fill="#151515"/>
<circle cx="58.94" cy="219.18" r="0.72" fill="#151515"/>
<line x1="59.90" y1="218.86" x2="59.90" y2="222.96" stroke="#000" stroke-width="0.6"/>
<line x1="58.70" y1="218.86" x2="61.10" y2="218.86" stroke="#000" stroke-width="0.6"/>
<line x1="58.70" y1="222.96" x2="61.10" y2="222.96" stroke="#000" stroke-width="0.6"/>
<circle cx="65.89" cy="216.77" r="0.72" fill="#151515"/>
<circle cx="68.69" cy="219.67" r="0.72" fill="#151515"/>
<circle cx="68.30" cy="223.30" r="0.72" fill="#151515"/>
<circle cx="65.58" cy="231.41" r="0.72" fill="#151515"/>
<circle cx="65.96" cy="230.40" r="0.72" fill="#151515"/>
<circle cx="67.72" cy="229.06" r="0.72" fill="#151515"/>
<circle cx="66.03" cy="237.57" r="0.72" fill="#151515"/>
<circle cx="65.45" cy="237.58" r="0.72" fill="#151515"/>
<circle cx="68.10" cy="228.77" r="0.72" fill="#151515"/>
<line x1="66.90" y1="226.68" x2="66.90" y2="232.32" stroke="#000" stroke-width="0.6"/>
<line x1="65.70" y1="226.68" x2="68.10" y2="226.68" stroke="#000" stroke-width="0.6"/>
<line x1="65.70" y1="232.32" x2="68.10" y2="232.32" stroke="#000" stroke-width="0.6"/>
<circle cx="72.82" cy="218.22" r="0.72" fill="#151515"/>
<circle cx="74.56" cy="230.93" r="0.72" fill="#151515"/>
<circle cx="75.38" cy="227.45" r="0.72" fill="#151515"/>
<circle cx="75.59" cy="233.71" r="0.72" fill="#151515"/>
<circle cx="72.52" cy="231.10" r="0.72" fill="#151515"/>
<circle cx="73.92" cy="228.44" r="0.72" fill="#151515"/>
<circle cx="74.83" cy="234.73" r="0.72" fill="#151515"/>
<line x1="73.90" y1="226.19" x2="73.90" y2="230.81" stroke="#000" stroke-width="0.6"/>
<line x1="72.70" y1="226.19" x2="75.10" y2="226.19" stroke="#000" stroke-width="0.6"/>
<line x1="72.70" y1="230.81" x2="75.10" y2="230.81" stroke="#000" stroke-width="0.6"/>
<circle cx="80.91" cy="263.22" r="0.55" fill="#3aab48"/>
<circle cx="79.97" cy="263.65" r="0.55" fill="#3aab48"/>
<circle cx="79.72" cy="263.67" r="0.55" fill="#3aab48"/>
<circle cx="81.06" cy="263.34" r="0.55" fill="#3aab48"/>
<circle cx="81.11" cy="263.60" r="0.55" fill="#3aab48"/>
<circle cx="86.32" cy="213.87" r="0.72" fill="#151515"/>
<circle cx="89.53" cy="218.22" r="0.72" fill="#151515"/>
<circle cx="87.76" cy="239.47" r="0.72" fill="#151515"/>
<circle cx="88.85" cy="239.19" r="0.72" fill="#151515"/>
<circle cx="87.28" cy="229.97" r="0.72" fill="#151515"/>
<circle cx="87.78" cy="227.79" r="0.72" fill="#151515"/>
<circle cx="87.96" cy="228.71" r="0.72" fill="#151515"/>
<circle cx="87.65" cy="240.77" r="0.72" fill="#151515"/>
<line x1="87.90" y1="225.56" x2="87.90" y2="232.23" stroke="#000" stroke-width="0.6"/>
<line x1="86.70" y1="225.56" x2="89.10" y2="225.56" stroke="#000" stroke-width="0.6"/>
<line x1="86.70" y1="232.23" x2="89.10" y2="232.23" stroke="#000" stroke-width="0.6"/>
<circle cx="95.20" cy="263.69" r="0.55" fill="#ff8a00"/>
<circle cx="95.50" cy="263.11" r="0.55" fill="#ff8a00"/>
<circle cx="93.94" cy="263.38" r="0.55" fill="#ff8a00"/>
<circle cx="95.62" cy="263.42" r="0.55" fill="#ff8a00"/>
<circle cx="93.99" cy="263.58" r="0.55" fill="#ff8a00"/>
<circle cx="102.37" cy="210.97" r="0.72" fill="#151515"/>
<circle cx="101.56" cy="218.22" r="0.72" fill="#151515"/>
<circle cx="102.26" cy="237.23" r="0.72" fill="#151515"/>
<circle cx="101.92" cy="245.52" r="0.72" fill="#151515"/>
<circle cx="103.64" cy="230.88" r="0.72" fill="#151515"/>
<circle cx="103.00" cy="232.41" r="0.72" fill="#151515"/>
<circle cx="101.03" cy="234.02" r="0.72" fill="#151515"/>
<circle cx="103.38" cy="231.42" r="0.72" fill="#151515"/>
<line x1="101.90" y1="229.76" x2="101.90" y2="237.45" stroke="#000" stroke-width="0.6"/>
<line x1="100.70" y1="229.76" x2="103.10" y2="229.76" stroke="#000" stroke-width="0.6"/>
<line x1="100.70" y1="237.45" x2="103.10" y2="237.45" stroke="#000" stroke-width="0.6"/>
<line x1="41.20" y1="196.50" x2="41.20" y2="264.60" stroke="#000" stroke-width="1.0"/>
<line x1="40.70" y1="264.10" x2="106.50" y2="264.10" stroke="#000" stroke-width="1.05"/>
<line x1="38.20" y1="263.90" x2="41.20" y2="263.90" stroke="#000" stroke-width="0.8"/>
<text x="35.20" y="266.20" font-size="6.4" text-anchor="end" font-weight="normal" fill="#000" stroke="#000" stroke-width="0.06">0</text>
<line x1="38.20" y1="256.65" x2="41.20" y2="256.65" stroke="#000" stroke-width="0.8"/>
<text x="35.20" y="258.95" font-size="6.4" text-anchor="end" font-weight="normal" fill="#000" stroke="#000" stroke-width="0.06">1000</text>
<line x1="38.20" y1="249.40" x2="41.20" y2="249.40" stroke="#000" stroke-width="0.8"/>
<text x="35.20" y="251.70" font-size="6.4" text-anchor="end" font-weight="normal" fill="#000" stroke="#000" stroke-width="0.06">2000</text>
<line x1="38.20" y1="242.15" x2="41.20" y2="242.15" stroke="#000" stroke-width="0.8"/>
<text x="35.20" y="244.45" font-size="6.4" text-anchor="end" font-weight="normal" fill="#000" stroke="#000" stroke-width="0.06">3000</text>
<line x1="38.20" y1="234.90" x2="41.20" y2="234.90" stroke="#000" stroke-width="0.8"/>
<text x="35.20" y="237.20" font-size="6.4" text-anchor="end" font-weight="normal" fill="#000" stroke="#000" stroke-width="0.06">4000</text>
<line x1="38.20" y1="227.65" x2="41.20" y2="227.65" stroke="#000" stroke-width="0.8"/>
<text x="35.20" y="229.95" font-size="6.4" text-anchor="end" font-weight="normal" fill="#000" stroke="#000" stroke-width="0.06">5000</text>
<line x1="38.20" y1="220.40" x2="41.20" y2="220.40" stroke="#000" stroke-width="0.8"/>
<text x="35.20" y="222.70" font-size="6.4" text-anchor="end" font-weight="normal" fill="#000" stroke="#000" stroke-width="0.06">6000</text>
<line x1="38.20" y1="213.15" x2="41.20" y2="213.15" stroke="#000" stroke-width="0.8"/>
<text x="35.20" y="215.45" font-size="6.4" text-anchor="end" font-weight="normal" fill="#000" stroke="#000" stroke-width="0.06">7000</text>
<line x1="38.20" y1="205.90" x2="41.20" y2="205.90" stroke="#000" stroke-width="0.8"/>
<text x="35.20" y="208.20" font-size="6.4" text-anchor="end" font-weight="normal" fill="#000" stroke="#000" stroke-width="0.06">8000</text>
<line x1="38.20" y1="198.65" x2="41.20" y2="198.65" stroke="#000" stroke-width="0.8"/>
<text x="35.20" y="200.95" font-size="6.4" text-anchor="end" font-weight="normal" fill="#000" stroke="#000" stroke-width="0.06">9000</text>
<line x1="45.90" y1="264.10" x2="45.90" y2="266.90" stroke="#000" stroke-width="0.7"/>
<line x1="52.90" y1="264.10" x2="52.90" y2="266.90" stroke="#000" stroke-width="0.7"/>
<line x1="59.90" y1="264.10" x2="59.90" y2="266.90" stroke="#000" stroke-width="0.7"/>
<line x1="66.90" y1="264.10" x2="66.90" y2="266.90" stroke="#000" stroke-width="0.7"/>
<line x1="73.90" y1="264.10" x2="73.90" y2="266.90" stroke="#000" stroke-width="0.7"/>
<line x1="80.90" y1="264.10" x2="80.90" y2="266.90" stroke="#000" stroke-width="0.7"/>
<line x1="87.90" y1="264.10" x2="87.90" y2="266.90" stroke="#000" stroke-width="0.7"/>
<line x1="94.90" y1="264.10" x2="94.90" y2="266.90" stroke="#000" stroke-width="0.7"/>
<line x1="101.90" y1="264.10" x2="101.90" y2="266.90" stroke="#000" stroke-width="0.7"/>
<text x="48.70" y="270.00" font-size="6.3" text-anchor="end" font-weight="normal" fill="#000" transform="rotate(-90 48.70 270.00)" stroke="#000" stroke-width="0.15">No ADC</text>
<text x="55.70" y="270.00" font-size="6.3" text-anchor="end" font-weight="normal" fill="#000" transform="rotate(-90 55.70 270.00)" stroke="#000" stroke-width="0.15">CD45.2-MMAE</text>
<text x="62.70" y="270.00" font-size="6.3" text-anchor="end" font-weight="normal" fill="#000" transform="rotate(-90 62.70 270.00)" stroke="#000" stroke-width="0.15">CD45.1-MMAE</text>
<text x="69.70" y="270.00" font-size="6.3" text-anchor="end" font-weight="normal" fill="#000" transform="rotate(-90 69.70 270.00)" stroke="#000" stroke-width="0.15">CD45.2-DUO</text>
<text x="76.70" y="270.00" font-size="6.3" text-anchor="end" font-weight="normal" fill="#000" transform="rotate(-90 76.70 270.00)" stroke="#000" stroke-width="0.15">CD45.1-DUO</text>
<text x="83.70" y="270.00" font-size="6.3" text-anchor="end" font-weight="normal" fill="#000" transform="rotate(-90 83.70 270.00)" stroke="#000" stroke-width="0.15">CD45.2-PNU</text>
<text x="90.70" y="270.00" font-size="6.3" text-anchor="end" font-weight="normal" fill="#000" transform="rotate(-90 90.70 270.00)" stroke="#000" stroke-width="0.15">CD45.1-PNU</text>
<text x="97.70" y="270.00" font-size="6.3" text-anchor="end" font-weight="normal" fill="#000" transform="rotate(-90 97.70 270.00)" stroke="#000" stroke-width="0.15">CD45.2-PBD</text>
<text x="104.70" y="270.00" font-size="6.3" text-anchor="end" font-weight="normal" fill="#000" transform="rotate(-90 104.70 270.00)" stroke="#000" stroke-width="0.15">CD45.1-PBD</text>
<text x="64.90" y="168.80" font-size="8.3" text-anchor="start" font-weight="normal" fill="#000" textLength="18.60" lengthAdjust="spacingAndGlyphs" stroke="#000" stroke-width="0.1">HSC</text>
<line x1="65.20" y1="169.40" x2="83.20" y2="169.40" stroke="#888" stroke-width="0.7"/>
<text x="15.60" y="230.75" font-size="6.8" text-anchor="middle" font-weight="normal" fill="#000" textLength="71.50" lengthAdjust="spacingAndGlyphs" transform="rotate(-90 15.60 230.75)" stroke="#000" stroke-width="0.22">CD150<tspan font-size="4.2" dy="-2.2">+</tspan><tspan dy="2.2">CD48</tspan><tspan font-size="4.2" dy="-2.2">−</tspan><tspan dy="2.2"> LSK per femur</tspan></text>
<line x1="44.70" y1="179.50" x2="106.20" y2="179.50" stroke="#7a7a7a" stroke-width="1.0"/>
<text x="75.00" y="177.50" font-size="5.6" text-anchor="middle" font-weight="normal" fill="#333" stroke="#333" stroke-width="0.15">ns</text>
<line x1="44.70" y1="185.50" x2="97.30" y2="185.50" stroke="#7a7a7a" stroke-width="1.0"/>
<circle cx="67.60" cy="182.50" r="0.78" fill="#222"/>
<circle cx="70.00" cy="182.50" r="0.78" fill="#222"/>
<circle cx="72.40" cy="182.50" r="0.78" fill="#222"/>
<circle cx="74.80" cy="182.50" r="0.78" fill="#222"/>
<line x1="44.70" y1="192.50" x2="90.70" y2="192.50" stroke="#7a7a7a" stroke-width="1.0"/>
<text x="68.00" y="190.10" font-size="5.6" text-anchor="middle" font-weight="normal" fill="#333" stroke="#333" stroke-width="0.15">ns</text>
<line x1="44.70" y1="198.50" x2="83.10" y2="198.50" stroke="#7a7a7a" stroke-width="1.0"/>
<circle cx="61.20" cy="195.50" r="0.78" fill="#222"/>
<circle cx="63.60" cy="195.50" r="0.78" fill="#222"/>
<circle cx="66.00" cy="195.50" r="0.78" fill="#222"/>
<rect x="140.50" y="224.05" width="4.40" height="39.95" fill="#bdbcc2"/>
<rect x="147.62" y="224.90" width="4.40" height="39.10" fill="#c8102e"/>
<rect x="154.75" y="228.84" width="4.40" height="35.16" fill="#e0889a"/>
<rect x="161.88" y="227.06" width="4.40" height="36.94" fill="#184b86"/>
<rect x="169.00" y="218.22" width="4.40" height="45.78" fill="#89a8c8"/>
<rect x="176.12" y="259.11" width="4.40" height="4.89" fill="#3aab48"/>
<rect x="183.25" y="242.57" width="4.40" height="21.43" fill="#a3d7a3"/>
<rect x="190.38" y="262.68" width="4.40" height="1.32" fill="#ff8a00"/>
<rect x="197.50" y="243.70" width="4.40" height="20.30" fill="#f7c98c"/>
<circle cx="143.40" cy="210.42" r="0.72" fill="#151515"/>
<circle cx="143.66" cy="222.64" r="0.72" fill="#151515"/>
<circle cx="143.65" cy="228.82" r="0.72" fill="#151515"/>
<circle cx="142.36" cy="228.38" r="0.72" fill="#151515"/>
<circle cx="143.50" cy="227.90" r="0.72" fill="#151515"/>
<circle cx="141.15" cy="233.28" r="0.72" fill="#151515"/>
<circle cx="142.13" cy="226.82" r="0.72" fill="#151515"/>
<circle cx="142.59" cy="227.04" r="0.72" fill="#151515"/>
<line x1="142.70" y1="221.06" x2="142.70" y2="227.04" stroke="#000" stroke-width="0.6"/>
<line x1="141.50" y1="221.06" x2="143.90" y2="221.06" stroke="#000" stroke-width="0.6"/>
<line x1="141.50" y1="227.04" x2="143.90" y2="227.04" stroke="#000" stroke-width="0.6"/>
<circle cx="150.42" cy="217.00" r="0.72" fill="#151515"/>
<circle cx="149.24" cy="219.82" r="0.72" fill="#151515"/>
<circle cx="150.40" cy="229.17" r="0.72" fill="#151515"/>
<circle cx="150.08" cy="227.55" r="0.72" fill="#151515"/>
<circle cx="149.94" cy="226.22" r="0.72" fill="#151515"/>
<circle cx="149.43" cy="226.29" r="0.72" fill="#151515"/>
<circle cx="151.62" cy="228.13" r="0.72" fill="#151515"/>
<circle cx="150.34" cy="224.78" r="0.72" fill="#151515"/>
<line x1="149.82" y1="223.23" x2="149.82" y2="226.56" stroke="#000" stroke-width="0.6"/>
<line x1="148.62" y1="223.23" x2="151.02" y2="223.23" stroke="#000" stroke-width="0.6"/>
<line x1="148.62" y1="226.56" x2="151.02" y2="226.56" stroke="#000" stroke-width="0.6"/>
<circle cx="156.07" cy="219.82" r="0.72" fill="#151515"/>
<circle cx="156.60" cy="222.64" r="0.72" fill="#151515"/>
<circle cx="155.33" cy="229.02" r="0.72" fill="#151515"/>
<circle cx="155.85" cy="228.68" r="0.72" fill="#151515"/>
<circle cx="156.50" cy="227.45" r="0.72" fill="#151515"/>
<circle cx="155.50" cy="232.85" r="0.72" fill="#151515"/>
<circle cx="156.05" cy="229.51" r="0.72" fill="#151515"/>
<circle cx="158.41" cy="228.81" r="0.72" fill="#151515"/>
<line x1="156.95" y1="226.85" x2="156.95" y2="230.84" stroke="#000" stroke-width="0.6"/>
<line x1="155.75" y1="226.85" x2="158.15" y2="226.85" stroke="#000" stroke-width="0.6"/>
<line x1="155.75" y1="230.84" x2="158.15" y2="230.84" stroke="#000" stroke-width="0.6"/>
<circle cx="165.19" cy="214.18" r="0.72" fill="#151515"/>
<circle cx="162.55" cy="222.64" r="0.72" fill="#151515"/>
<circle cx="164.43" cy="231.99" r="0.72" fill="#151515"/>
<circle cx="165.01" cy="232.43" r="0.72" fill="#151515"/>
<circle cx="162.44" cy="227.68" r="0.72" fill="#151515"/>
<circle cx="165.62" cy="231.81" r="0.72" fill="#151515"/>
<circle cx="162.85" cy="227.39" r="0.72" fill="#151515"/>
<circle cx="163.97" cy="231.08" r="0.72" fill="#151515"/>
<line x1="164.07" y1="224.40" x2="164.07" y2="229.72" stroke="#000" stroke-width="0.6"/>
<line x1="162.88" y1="224.40" x2="165.27" y2="224.40" stroke="#000" stroke-width="0.6"/>
<line x1="162.88" y1="229.72" x2="165.27" y2="229.72" stroke="#000" stroke-width="0.6"/>
<circle cx="171.30" cy="210.42" r="0.72" fill="#151515"/>
<circle cx="171.55" cy="211.36" r="0.72" fill="#151515"/>
<circle cx="170.72" cy="213.24" r="0.72" fill="#151515"/>
<circle cx="170.43" cy="219.03" r="0.72" fill="#151515"/>
<circle cx="171.76" cy="217.49" r="0.72" fill="#151515"/>
<circle cx="171.42" cy="216.95" r="0.72" fill="#151515"/>
<circle cx="170.42" cy="219.54" r="0.72" fill="#151515"/>
<circle cx="171.98" cy="215.38" r="0.72" fill="#151515"/>
<circle cx="170.47" cy="217.84" r="0.72" fill="#151515"/>
<line x1="171.20" y1="215.90" x2="171.20" y2="220.55" stroke="#000" stroke-width="0.6"/>
<line x1="170.00" y1="215.90" x2="172.40" y2="215.90" stroke="#000" stroke-width="0.6"/>
<line x1="170.00" y1="220.55" x2="172.40" y2="220.55" stroke="#000" stroke-width="0.6"/>
<circle cx="179.76" cy="252.72" r="0.72" fill="#151515"/>
<circle cx="179.22" cy="255.54" r="0.72" fill="#151515"/>
<circle cx="176.71" cy="262.99" r="0.72" fill="#151515"/>
<circle cx="180.08" cy="261.91" r="0.72" fill="#151515"/>
<circle cx="179.93" cy="262.86" r="0.72" fill="#151515"/>
<circle cx="176.79" cy="262.32" r="0.72" fill="#151515"/>
<circle cx="179.78" cy="259.51" r="0.72" fill="#151515"/>
<circle cx="178.07" cy="261.23" r="0.72" fill="#151515"/>
<line x1="178.32" y1="257.78" x2="178.32" y2="260.44" stroke="#000" stroke-width="0.6"/>
<line x1="177.12" y1="257.78" x2="179.52" y2="257.78" stroke="#000" stroke-width="0.6"/>
<line x1="177.12" y1="260.44" x2="179.52" y2="260.44" stroke="#000" stroke-width="0.6"/>
<circle cx="185.34" cy="240.50" r="0.72" fill="#151515"/>
<circle cx="187.17" cy="243.90" r="0.72" fill="#151515"/>
<circle cx="186.59" cy="241.57" r="0.72" fill="#151515"/>
<circle cx="185.82" cy="244.99" r="0.72" fill="#151515"/>
<circle cx="184.06" cy="243.68" r="0.72" fill="#151515"/>
<circle cx="185.90" cy="241.73" r="0.72" fill="#151515"/>
<circle cx="185.29" cy="242.74" r="0.72" fill="#151515"/>
<line x1="185.45" y1="241.24" x2="185.45" y2="243.90" stroke="#000" stroke-width="0.6"/>
<line x1="184.25" y1="241.24" x2="186.65" y2="241.24" stroke="#000" stroke-width="0.6"/>
<line x1="184.25" y1="243.90" x2="186.65" y2="243.90" stroke="#000" stroke-width="0.6"/>
<circle cx="192.87" cy="262.68" r="0.72" fill="#151515"/>
<circle cx="192.29" cy="262.68" r="0.72" fill="#151515"/>
<circle cx="193.58" cy="262.68" r="0.72" fill="#151515"/>
<circle cx="192.69" cy="262.68" r="0.72" fill="#151515"/>
<circle cx="194.37" cy="262.68" r="0.72" fill="#151515"/>
<circle cx="194.20" cy="262.68" r="0.72" fill="#151515"/>
<circle cx="193.42" cy="262.68" r="0.72" fill="#151515"/>
<circle cx="191.63" cy="262.68" r="0.72" fill="#151515"/>
<line x1="192.57" y1="262.68" x2="192.57" y2="262.68" stroke="#000" stroke-width="0.6"/>
<line x1="191.38" y1="262.68" x2="193.77" y2="262.68" stroke="#000" stroke-width="0.6"/>
<line x1="191.38" y1="262.68" x2="193.77" y2="262.68" stroke="#000" stroke-width="0.6"/>
<circle cx="200.37" cy="248.10" r="0.72" fill="#151515"/>
<circle cx="199.93" cy="242.25" r="0.72" fill="#151515"/>
<circle cx="200.03" cy="243.06" r="0.72" fill="#151515"/>
<circle cx="200.18" cy="244.26" r="0.72" fill="#151515"/>
<circle cx="200.61" cy="246.26" r="0.72" fill="#151515"/>
<circle cx="198.58" cy="246.92" r="0.72" fill="#151515"/>
<line x1="199.70" y1="242.03" x2="199.70" y2="245.36" stroke="#000" stroke-width="0.6"/>
<line x1="198.50" y1="242.03" x2="200.90" y2="242.03" stroke="#000" stroke-width="0.6"/>
<line x1="198.50" y1="245.36" x2="200.90" y2="245.36" stroke="#000" stroke-width="0.6"/>
<line x1="138.50" y1="196.50" x2="138.50" y2="264.50" stroke="#000" stroke-width="1.0"/>
<line x1="138.00" y1="264.00" x2="203.50" y2="264.00" stroke="#000" stroke-width="1.05"/>
<line x1="135.50" y1="264.00" x2="138.50" y2="264.00" stroke="#000" stroke-width="0.8"/>
<text x="132.80" y="266.30" font-size="6.4" text-anchor="end" font-weight="normal" fill="#000" stroke="#000" stroke-width="0.06">0</text>
<line x1="135.50" y1="254.60" x2="138.50" y2="254.60" stroke="#000" stroke-width="0.8"/>
<text x="132.80" y="256.90" font-size="6.4" text-anchor="end" font-weight="normal" fill="#000" stroke="#000" stroke-width="0.06">10</text>
<line x1="135.50" y1="245.20" x2="138.50" y2="245.20" stroke="#000" stroke-width="0.8"/>
<text x="132.80" y="247.50" font-size="6.4" text-anchor="end" font-weight="normal" fill="#000" stroke="#000" stroke-width="0.06">20</text>
<line x1="135.50" y1="235.80" x2="138.50" y2="235.80" stroke="#000" stroke-width="0.8"/>
<text x="132.80" y="238.10" font-size="6.4" text-anchor="end" font-weight="normal" fill="#000" stroke="#000" stroke-width="0.06">30</text>
<line x1="135.50" y1="226.40" x2="138.50" y2="226.40" stroke="#000" stroke-width="0.8"/>
<text x="132.80" y="228.70" font-size="6.4" text-anchor="end" font-weight="normal" fill="#000" stroke="#000" stroke-width="0.06">40</text>
<line x1="135.50" y1="217.00" x2="138.50" y2="217.00" stroke="#000" stroke-width="0.8"/>
<text x="132.80" y="219.30" font-size="6.4" text-anchor="end" font-weight="normal" fill="#000" stroke="#000" stroke-width="0.06">50</text>
<line x1="135.50" y1="207.60" x2="138.50" y2="207.60" stroke="#000" stroke-width="0.8"/>
<text x="132.80" y="209.90" font-size="6.4" text-anchor="end" font-weight="normal" fill="#000" stroke="#000" stroke-width="0.06">60</text>
<line x1="135.50" y1="198.20" x2="138.50" y2="198.20" stroke="#000" stroke-width="0.8"/>
<text x="132.80" y="200.50" font-size="6.4" text-anchor="end" font-weight="normal" fill="#000" stroke="#000" stroke-width="0.06">70</text>
<line x1="142.70" y1="264.00" x2="142.70" y2="266.80" stroke="#000" stroke-width="0.7"/>
<line x1="149.82" y1="264.00" x2="149.82" y2="266.80" stroke="#000" stroke-width="0.7"/>
<line x1="156.95" y1="264.00" x2="156.95" y2="266.80" stroke="#000" stroke-width="0.7"/>
<line x1="164.07" y1="264.00" x2="164.07" y2="266.80" stroke="#000" stroke-width="0.7"/>
<line x1="171.20" y1="264.00" x2="171.20" y2="266.80" stroke="#000" stroke-width="0.7"/>
<line x1="178.32" y1="264.00" x2="178.32" y2="266.80" stroke="#000" stroke-width="0.7"/>
<line x1="185.45" y1="264.00" x2="185.45" y2="266.80" stroke="#000" stroke-width="0.7"/>
<line x1="192.57" y1="264.00" x2="192.57" y2="266.80" stroke="#000" stroke-width="0.7"/>
<line x1="199.70" y1="264.00" x2="199.70" y2="266.80" stroke="#000" stroke-width="0.7"/>
<text x="145.50" y="269.90" font-size="6.3" text-anchor="end" font-weight="normal" fill="#000" transform="rotate(-90 145.50 269.90)" stroke="#000" stroke-width="0.15">No ADC</text>
<text x="152.62" y="269.90" font-size="6.3" text-anchor="end" font-weight="normal" fill="#000" transform="rotate(-90 152.62 269.90)" stroke="#000" stroke-width="0.15">CD45.2-MMAE</text>
<text x="159.75" y="269.90" font-size="6.3" text-anchor="end" font-weight="normal" fill="#000" transform="rotate(-90 159.75 269.90)" stroke="#000" stroke-width="0.15">CD45.1-MMAE</text>
<text x="166.88" y="269.90" font-size="6.3" text-anchor="end" font-weight="normal" fill="#000" transform="rotate(-90 166.88 269.90)" stroke="#000" stroke-width="0.15">CD45.2-DUO</text>
<text x="174.00" y="269.90" font-size="6.3" text-anchor="end" font-weight="normal" fill="#000" transform="rotate(-90 174.00 269.90)" stroke="#000" stroke-width="0.15">CD45.1-DUO</text>
<text x="181.12" y="269.90" font-size="6.3" text-anchor="end" font-weight="normal" fill="#000" transform="rotate(-90 181.12 269.90)" stroke="#000" stroke-width="0.15">CD45.2-PNU</text>
<text x="188.25" y="269.90" font-size="6.3" text-anchor="end" font-weight="normal" fill="#000" transform="rotate(-90 188.25 269.90)" stroke="#000" stroke-width="0.15">CD45.1-PNU</text>
<text x="195.38" y="269.90" font-size="6.3" text-anchor="end" font-weight="normal" fill="#000" transform="rotate(-90 195.38 269.90)" stroke="#000" stroke-width="0.15">CD45.2-PBD</text>
<text x="202.50" y="269.90" font-size="6.3" text-anchor="end" font-weight="normal" fill="#000" transform="rotate(-90 202.50 269.90)" stroke="#000" stroke-width="0.15">CD45.1-PBD</text>
<text x="162.70" y="168.80" font-size="8.3" text-anchor="start" font-weight="normal" fill="#000" textLength="17.00" lengthAdjust="spacingAndGlyphs" stroke="#000" stroke-width="0.1">CFU</text>
<line x1="163.00" y1="169.40" x2="179.40" y2="169.40" stroke="#888" stroke-width="0.7"/>
<text x="120.30" y="230.15" font-size="6.8" text-anchor="middle" font-weight="normal" fill="#000" textLength="49.90" lengthAdjust="spacingAndGlyphs" transform="rotate(-90 120.30 230.15)" stroke="#000" stroke-width="0.22">Colony forming units</text>
<line x1="141.40" y1="189.50" x2="201.50" y2="189.50" stroke="#7a7a7a" stroke-width="1.0"/>
<circle cx="169.10" cy="187.50" r="0.78" fill="#222"/>
<circle cx="171.50" cy="187.50" r="0.78" fill="#222"/>
<circle cx="173.90" cy="187.50" r="0.78" fill="#222"/>
<line x1="141.40" y1="194.50" x2="194.00" y2="194.50" stroke="#7a7a7a" stroke-width="1.0"/>
<circle cx="163.90" cy="192.50" r="0.78" fill="#222"/>
<circle cx="166.30" cy="192.50" r="0.78" fill="#222"/>
<circle cx="168.70" cy="192.50" r="0.78" fill="#222"/>
<circle cx="171.10" cy="192.50" r="0.78" fill="#222"/>
<line x1="141.40" y1="200.50" x2="186.00" y2="200.50" stroke="#7a7a7a" stroke-width="1.0"/>
<circle cx="162.50" cy="198.50" r="0.78" fill="#222"/>
<circle cx="164.90" cy="198.50" r="0.78" fill="#222"/>
<line x1="141.40" y1="205.50" x2="179.80" y2="205.50" stroke="#7a7a7a" stroke-width="1.0"/>
<circle cx="156.90" cy="203.50" r="0.78" fill="#222"/>
<circle cx="159.30" cy="203.50" r="0.78" fill="#222"/>
<circle cx="161.70" cy="203.50" r="0.78" fill="#222"/>
<circle cx="164.10" cy="203.50" r="0.78" fill="#222"/>
<rect x="245.65" y="238.30" width="4.70" height="26.00" fill="#bdbcc2"/>
<rect x="252.70" y="228.55" width="4.70" height="35.75" fill="#c8102e"/>
<rect x="259.75" y="235.70" width="4.70" height="28.60" fill="#e0889a"/>
<rect x="266.80" y="228.55" width="4.70" height="35.75" fill="#184b86"/>
<rect x="273.85" y="230.50" width="4.70" height="33.80" fill="#89a8c8"/>
<rect x="280.90" y="259.10" width="4.70" height="5.20" fill="#3aab48"/>
<rect x="287.95" y="251.30" width="4.70" height="13.00" fill="#a3d7a3"/>
<rect x="295.00" y="255.85" width="4.70" height="8.45" fill="#ff8a00"/>
<rect x="302.05" y="247.40" width="4.70" height="16.90" fill="#f7c98c"/>
<line x1="243.40" y1="252.50" x2="309.50" y2="252.50" stroke="#a09890" stroke-width="0.6"/>
<circle cx="247.18" cy="215.55" r="0.72" fill="#151515"/>
<circle cx="247.73" cy="229.85" r="0.72" fill="#151515"/>
<circle cx="248.44" cy="249.35" r="0.72" fill="#151515"/>
<circle cx="246.57" cy="238.96" r="0.72" fill="#151515"/>
<circle cx="248.15" cy="233.26" r="0.72" fill="#151515"/>
<circle cx="246.46" cy="233.76" r="0.72" fill="#151515"/>
<circle cx="246.51" cy="234.05" r="0.72" fill="#151515"/>
<circle cx="248.63" cy="240.59" r="0.72" fill="#151515"/>
<circle cx="248.18" cy="240.43" r="0.72" fill="#151515"/>
<line x1="248.00" y1="234.85" x2="248.00" y2="241.75" stroke="#000" stroke-width="0.6"/>
<line x1="246.80" y1="234.85" x2="249.20" y2="234.85" stroke="#000" stroke-width="0.6"/>
<line x1="246.80" y1="241.75" x2="249.20" y2="241.75" stroke="#000" stroke-width="0.6"/>
<circle cx="256.27" cy="207.75" r="0.72" fill="#151515"/>
<circle cx="253.52" cy="220.75" r="0.72" fill="#151515"/>
<circle cx="253.68" cy="227.94" r="0.72" fill="#151515"/>
<circle cx="256.16" cy="229.78" r="0.72" fill="#151515"/>
<circle cx="255.50" cy="229.03" r="0.72" fill="#151515"/>
<circle cx="256.02" cy="230.94" r="0.72" fill="#151515"/>
<circle cx="254.02" cy="229.99" r="0.72" fill="#151515"/>
<circle cx="254.78" cy="227.12" r="0.72" fill="#151515"/>
<line x1="255.05" y1="225.10" x2="255.05" y2="232.00" stroke="#000" stroke-width="0.6"/>
<line x1="253.85" y1="225.10" x2="256.25" y2="225.10" stroke="#000" stroke-width="0.6"/>
<line x1="253.85" y1="232.00" x2="256.25" y2="232.00" stroke="#000" stroke-width="0.6"/>
<circle cx="262.28" cy="224.00" r="0.72" fill="#151515"/>
<circle cx="262.99" cy="228.55" r="0.72" fill="#151515"/>
<circle cx="263.61" cy="237.92" r="0.72" fill="#151515"/>
<circle cx="261.84" cy="234.34" r="0.72" fill="#151515"/>
<circle cx="261.63" cy="237.20" r="0.72" fill="#151515"/>
<circle cx="260.65" cy="235.35" r="0.72" fill="#151515"/>
<circle cx="263.45" cy="233.17" r="0.72" fill="#151515"/>
<circle cx="260.58" cy="237.48" r="0.72" fill="#151515"/>
<line x1="262.10" y1="233.40" x2="262.10" y2="238.00" stroke="#000" stroke-width="0.6"/>
<line x1="260.90" y1="233.40" x2="263.30" y2="233.40" stroke="#000" stroke-width="0.6"/>
<line x1="260.90" y1="238.00" x2="263.30" y2="238.00" stroke="#000" stroke-width="0.6"/>
<circle cx="267.62" cy="209.70" r="0.72" fill="#151515"/>
<circle cx="268.12" cy="222.70" r="0.72" fill="#151515"/>
<circle cx="269.73" cy="234.24" r="0.72" fill="#151515"/>
<circle cx="267.64" cy="229.55" r="0.72" fill="#151515"/>
<circle cx="268.44" cy="230.32" r="0.72" fill="#151515"/>
<circle cx="269.96" cy="228.37" r="0.72" fill="#151515"/>
<circle cx="269.85" cy="232.14" r="0.72" fill="#151515"/>
<circle cx="268.37" cy="227.49" r="0.72" fill="#151515"/>
<line x1="269.15" y1="225.10" x2="269.15" y2="232.00" stroke="#000" stroke-width="0.6"/>
<line x1="267.95" y1="225.10" x2="270.35" y2="225.10" stroke="#000" stroke-width="0.6"/>
<line x1="267.95" y1="232.00" x2="270.35" y2="232.00" stroke="#000" stroke-width="0.6"/>
<circle cx="276.45" cy="222.70" r="0.72" fill="#151515"/>
<circle cx="277.71" cy="237.74" r="0.72" fill="#151515"/>
<circle cx="277.78" cy="234.95" r="0.72" fill="#151515"/>
<circle cx="277.69" cy="230.16" r="0.72" fill="#151515"/>
<circle cx="275.98" cy="234.84" r="0.72" fill="#151515"/>
<circle cx="277.29" cy="238.07" r="0.72" fill="#151515"/>
<circle cx="275.50" cy="230.38" r="0.72" fill="#151515"/>
<line x1="276.20" y1="228.20" x2="276.20" y2="232.80" stroke="#000" stroke-width="0.6"/>
<line x1="275.00" y1="228.20" x2="277.40" y2="228.20" stroke="#000" stroke-width="0.6"/>
<line x1="275.00" y1="232.80" x2="277.40" y2="232.80" stroke="#000" stroke-width="0.6"/>
<circle cx="282.77" cy="261.35" r="0.72" fill="#151515"/>
<circle cx="282.76" cy="260.92" r="0.72" fill="#151515"/>
<circle cx="282.87" cy="258.14" r="0.72" fill="#151515"/>
<circle cx="282.85" cy="258.35" r="0.72" fill="#151515"/>
<circle cx="282.15" cy="261.71" r="0.72" fill="#151515"/>
<circle cx="283.48" cy="261.12" r="0.72" fill="#151515"/>
<line x1="283.25" y1="258.18" x2="283.25" y2="260.02" stroke="#000" stroke-width="0.6"/>
<line x1="282.05" y1="258.18" x2="284.45" y2="258.18" stroke="#000" stroke-width="0.6"/>
<line x1="282.05" y1="260.02" x2="284.45" y2="260.02" stroke="#000" stroke-width="0.6"/>
<circle cx="291.67" cy="242.85" r="0.72" fill="#151515"/>
<circle cx="289.51" cy="250.54" r="0.72" fill="#151515"/>
<circle cx="288.58" cy="252.04" r="0.72" fill="#151515"/>
<circle cx="290.36" cy="250.31" r="0.72" fill="#151515"/>
<circle cx="290.46" cy="251.91" r="0.72" fill="#151515"/>
<circle cx="290.54" cy="254.17" r="0.72" fill="#151515"/>
<circle cx="291.98" cy="250.76" r="0.72" fill="#151515"/>
<line x1="290.30" y1="249.92" x2="290.30" y2="252.68" stroke="#000" stroke-width="0.6"/>
<line x1="289.10" y1="249.92" x2="291.50" y2="249.92" stroke="#000" stroke-width="0.6"/>
<line x1="289.10" y1="252.68" x2="291.50" y2="252.68" stroke="#000" stroke-width="0.6"/>
<circle cx="295.84" cy="247.40" r="0.72" fill="#151515"/>
<circle cx="298.20" cy="254.64" r="0.72" fill="#151515"/>
<circle cx="298.79" cy="253.74" r="0.72" fill="#151515"/>
<circle cx="295.85" cy="258.08" r="0.72" fill="#151515"/>
<circle cx="297.83" cy="255.25" r="0.72" fill="#151515"/>
<circle cx="296.07" cy="253.84" r="0.72" fill="#151515"/>
<circle cx="298.23" cy="257.96" r="0.72" fill="#151515"/>
<line x1="297.35" y1="254.70" x2="297.35" y2="257.00" stroke="#000" stroke-width="0.6"/>
<line x1="296.15" y1="254.70" x2="298.55" y2="254.70" stroke="#000" stroke-width="0.6"/>
<line x1="296.15" y1="257.00" x2="298.55" y2="257.00" stroke="#000" stroke-width="0.6"/>
<circle cx="304.02" cy="233.75" r="0.72" fill="#151515"/>
<circle cx="303.82" cy="240.90" r="0.72" fill="#151515"/>
<circle cx="306.09" cy="247.08" r="0.72" fill="#151515"/>
<circle cx="305.02" cy="249.70" r="0.72" fill="#151515"/>
<circle cx="304.38" cy="249.87" r="0.72" fill="#151515"/>
<circle cx="304.53" cy="246.33" r="0.72" fill="#151515"/>
<circle cx="305.20" cy="247.91" r="0.72" fill="#151515"/>
<circle cx="305.15" cy="246.33" r="0.72" fill="#151515"/>
<line x1="304.40" y1="245.56" x2="304.40" y2="249.24" stroke="#000" stroke-width="0.6"/>
<line x1="303.20" y1="245.56" x2="305.60" y2="245.56" stroke="#000" stroke-width="0.6"/>
<line x1="303.20" y1="249.24" x2="305.60" y2="249.24" stroke="#000" stroke-width="0.6"/>
<line x1="243.40" y1="196.50" x2="243.40" y2="264.80" stroke="#000" stroke-width="1.0"/>
<line x1="242.90" y1="264.30" x2="309.50" y2="264.30" stroke="#000" stroke-width="1.05"/>
<line x1="240.40" y1="264.30" x2="243.40" y2="264.30" stroke="#000" stroke-width="0.8"/>
<text x="238.00" y="266.60" font-size="6.1" text-anchor="end" font-weight="normal" fill="#000" stroke="#000" stroke-width="0.06">0</text>
<line x1="240.40" y1="251.30" x2="243.40" y2="251.30" stroke="#000" stroke-width="0.8"/>
<text x="238.00" y="253.60" font-size="6.1" text-anchor="end" font-weight="normal" fill="#000" stroke="#000" stroke-width="0.06">2</text>
<line x1="240.40" y1="238.30" x2="243.40" y2="238.30" stroke="#000" stroke-width="0.8"/>
<text x="238.00" y="240.60" font-size="6.1" text-anchor="end" font-weight="normal" fill="#000" stroke="#000" stroke-width="0.06">4</text>
<line x1="240.40" y1="225.30" x2="243.40" y2="225.30" stroke="#000" stroke-width="0.8"/>
<text x="238.00" y="227.60" font-size="6.1" text-anchor="end" font-weight="normal" fill="#000" stroke="#000" stroke-width="0.06">6</text>
<line x1="240.40" y1="212.30" x2="243.40" y2="212.30" stroke="#000" stroke-width="0.8"/>
<text x="238.00" y="214.60" font-size="6.1" text-anchor="end" font-weight="normal" fill="#000" stroke="#000" stroke-width="0.06">8</text>
<line x1="240.40" y1="199.30" x2="243.40" y2="199.30" stroke="#000" stroke-width="0.8"/>
<text x="238.00" y="201.60" font-size="6.1" text-anchor="end" font-weight="normal" fill="#000" stroke="#000" stroke-width="0.06">10</text>
<line x1="248.00" y1="264.30" x2="248.00" y2="267.10" stroke="#000" stroke-width="0.7"/>
<line x1="255.05" y1="264.30" x2="255.05" y2="267.10" stroke="#000" stroke-width="0.7"/>
<line x1="262.10" y1="264.30" x2="262.10" y2="267.10" stroke="#000" stroke-width="0.7"/>
<line x1="269.15" y1="264.30" x2="269.15" y2="267.10" stroke="#000" stroke-width="0.7"/>
<line x1="276.20" y1="264.30" x2="276.20" y2="267.10" stroke="#000" stroke-width="0.7"/>
<line x1="283.25" y1="264.30" x2="283.25" y2="267.10" stroke="#000" stroke-width="0.7"/>
<line x1="290.30" y1="264.30" x2="290.30" y2="267.10" stroke="#000" stroke-width="0.7"/>
<line x1="297.35" y1="264.30" x2="297.35" y2="267.10" stroke="#000" stroke-width="0.7"/>
<line x1="304.40" y1="264.30" x2="304.40" y2="267.10" stroke="#000" stroke-width="0.7"/>
<text x="250.80" y="270.20" font-size="6.3" text-anchor="end" font-weight="normal" fill="#000" transform="rotate(-90 250.80 270.20)" stroke="#000" stroke-width="0.15">No ADC</text>
<text x="257.85" y="270.20" font-size="6.3" text-anchor="end" font-weight="normal" fill="#000" transform="rotate(-90 257.85 270.20)" stroke="#000" stroke-width="0.15">CD45.2-MMAE</text>
<text x="264.90" y="270.20" font-size="6.3" text-anchor="end" font-weight="normal" fill="#000" transform="rotate(-90 264.90 270.20)" stroke="#000" stroke-width="0.15">CD45.1-MMAE</text>
<text x="271.95" y="270.20" font-size="6.3" text-anchor="end" font-weight="normal" fill="#000" transform="rotate(-90 271.95 270.20)" stroke="#000" stroke-width="0.15">CD45.2-DUO</text>
<text x="279.00" y="270.20" font-size="6.3" text-anchor="end" font-weight="normal" fill="#000" transform="rotate(-90 279.00 270.20)" stroke="#000" stroke-width="0.15">CD45.1-DUO</text>
<text x="286.05" y="270.20" font-size="6.3" text-anchor="end" font-weight="normal" fill="#000" transform="rotate(-90 286.05 270.20)" stroke="#000" stroke-width="0.15">CD45.2-PNU</text>
<text x="293.10" y="270.20" font-size="6.3" text-anchor="end" font-weight="normal" fill="#000" transform="rotate(-90 293.10 270.20)" stroke="#000" stroke-width="0.15">CD45.1-PNU</text>
<text x="300.15" y="270.20" font-size="6.3" text-anchor="end" font-weight="normal" fill="#000" transform="rotate(-90 300.15 270.20)" stroke="#000" stroke-width="0.15">CD45.2-PBD</text>
<text x="307.20" y="270.20" font-size="6.3" text-anchor="end" font-weight="normal" fill="#000" transform="rotate(-90 307.20 270.20)" stroke="#000" stroke-width="0.15">CD45.1-PBD</text>
<text x="265.80" y="168.80" font-size="8.3" text-anchor="start" font-weight="normal" fill="#000" textLength="20.80" lengthAdjust="spacingAndGlyphs" stroke="#000" stroke-width="0.1">WBC</text>
<line x1="266.10" y1="169.40" x2="286.30" y2="169.40" stroke="#888" stroke-width="0.7"/>
<text x="225.50" y="230.25" font-size="6.8" text-anchor="middle" font-weight="normal" fill="#000" textLength="41.10" lengthAdjust="spacingAndGlyphs" transform="rotate(-90 225.50 230.25)" stroke="#000" stroke-width="0.22">WBC (×10<tspan font-size="4.2" dy="-2.2">9</tspan><tspan dy="2.2">/μL)</tspan></text>
<rect x="343.15" y="215.56" width="3.70" height="48.74" fill="#bdbcc2"/>
<rect x="350.05" y="217.08" width="3.70" height="47.22" fill="#c8102e"/>
<rect x="356.95" y="219.25" width="3.70" height="45.05" fill="#e0889a"/>
<rect x="363.85" y="215.56" width="3.70" height="48.74" fill="#184b86"/>
<rect x="370.75" y="217.73" width="3.70" height="46.57" fill="#89a8c8"/>
<rect x="377.65" y="215.89" width="3.70" height="48.41" fill="#3aab48"/>
<rect x="384.55" y="217.08" width="3.70" height="47.22" fill="#a3d7a3"/>
<rect x="391.45" y="227.04" width="3.70" height="37.26" fill="#ff8a00"/>
<rect x="398.35" y="223.69" width="3.70" height="40.61" fill="#f7c98c"/>
<line x1="340.50" y1="225.90" x2="405.00" y2="225.90" stroke="#a09890" stroke-width="0.6"/>
<circle cx="346.20" cy="209.72" r="0.72" fill="#151515"/>
<circle cx="346.40" cy="211.77" r="0.72" fill="#151515"/>
<circle cx="346.65" cy="213.86" r="0.72" fill="#151515"/>
<circle cx="345.50" cy="216.59" r="0.72" fill="#151515"/>
<circle cx="345.09" cy="214.34" r="0.72" fill="#151515"/>
<circle cx="345.76" cy="215.20" r="0.72" fill="#151515"/>
<circle cx="346.09" cy="214.19" r="0.72" fill="#151515"/>
<circle cx="344.72" cy="214.45" r="0.72" fill="#151515"/>
<line x1="345.00" y1="214.42" x2="345.00" y2="216.71" stroke="#000" stroke-width="0.6"/>
<line x1="343.80" y1="214.42" x2="346.20" y2="214.42" stroke="#000" stroke-width="0.6"/>
<line x1="343.80" y1="216.71" x2="346.20" y2="216.71" stroke="#000" stroke-width="0.6"/>
<circle cx="350.84" cy="210.37" r="0.72" fill="#151515"/>
<circle cx="351.63" cy="217.62" r="0.72" fill="#151515"/>
<circle cx="351.15" cy="219.11" r="0.72" fill="#151515"/>
<circle cx="353.59" cy="215.88" r="0.72" fill="#151515"/>
<circle cx="350.31" cy="214.53" r="0.72" fill="#151515"/>
<circle cx="351.21" cy="217.86" r="0.72" fill="#151515"/>
<circle cx="350.51" cy="218.99" r="0.72" fill="#151515"/>
<line x1="351.90" y1="215.93" x2="351.90" y2="218.23" stroke="#000" stroke-width="0.6"/>
<line x1="350.70" y1="215.93" x2="353.10" y2="215.93" stroke="#000" stroke-width="0.6"/>
<line x1="350.70" y1="218.23" x2="353.10" y2="218.23" stroke="#000" stroke-width="0.6"/>
<circle cx="360.27" cy="218.55" r="0.72" fill="#151515"/>
<circle cx="357.13" cy="217.86" r="0.72" fill="#151515"/>
<circle cx="357.39" cy="221.09" r="0.72" fill="#151515"/>
<circle cx="357.66" cy="221.73" r="0.72" fill="#151515"/>
<circle cx="357.78" cy="219.58" r="0.72" fill="#151515"/>
<circle cx="357.85" cy="218.90" r="0.72" fill="#151515"/>
<line x1="358.80" y1="218.10" x2="358.80" y2="220.40" stroke="#000" stroke-width="0.6"/>
<line x1="357.60" y1="218.10" x2="360.00" y2="218.10" stroke="#000" stroke-width="0.6"/>
<line x1="357.60" y1="220.40" x2="360.00" y2="220.40" stroke="#000" stroke-width="0.6"/>
<circle cx="366.63" cy="212.86" r="0.72" fill="#151515"/>
<circle cx="365.02" cy="215.40" r="0.72" fill="#151515"/>
<circle cx="365.87" cy="215.80" r="0.72" fill="#151515"/>
<circle cx="366.84" cy="217.00" r="0.72" fill="#151515"/>
<circle cx="365.63" cy="217.13" r="0.72" fill="#151515"/>
<circle cx="364.84" cy="216.82" r="0.72" fill="#151515"/>
<circle cx="367.09" cy="217.17" r="0.72" fill="#151515"/>
<line x1="365.70" y1="214.80" x2="365.70" y2="216.33" stroke="#000" stroke-width="0.6"/>
<line x1="364.50" y1="214.80" x2="366.90" y2="214.80" stroke="#000" stroke-width="0.6"/>
<line x1="364.50" y1="216.33" x2="366.90" y2="216.33" stroke="#000" stroke-width="0.6"/>
<circle cx="370.98" cy="212.86" r="0.72" fill="#151515"/>
<circle cx="374.21" cy="216.11" r="0.72" fill="#151515"/>
<circle cx="373.69" cy="216.43" r="0.72" fill="#151515"/>
<circle cx="372.19" cy="218.60" r="0.72" fill="#151515"/>
<circle cx="372.70" cy="217.82" r="0.72" fill="#151515"/>
<circle cx="372.66" cy="216.27" r="0.72" fill="#151515"/>
<circle cx="371.79" cy="218.07" r="0.72" fill="#151515"/>
<circle cx="374.36" cy="219.06" r="0.72" fill="#151515"/>
<line x1="372.60" y1="216.97" x2="372.60" y2="218.50" stroke="#000" stroke-width="0.6"/>
<line x1="371.40" y1="216.97" x2="373.80" y2="216.97" stroke="#000" stroke-width="0.6"/>
<line x1="371.40" y1="218.50" x2="373.80" y2="218.50" stroke="#000" stroke-width="0.6"/>
<circle cx="380.27" cy="215.97" r="0.72" fill="#151515"/>
<circle cx="379.88" cy="217.78" r="0.72" fill="#151515"/>
<circle cx="378.27" cy="218.77" r="0.72" fill="#151515"/>
<circle cx="378.26" cy="216.77" r="0.72" fill="#151515"/>
<circle cx="378.86" cy="217.20" r="0.72" fill="#151515"/>
<circle cx="378.63" cy="215.36" r="0.72" fill="#151515"/>
<line x1="379.50" y1="215.12" x2="379.50" y2="216.66" stroke="#000" stroke-width="0.6"/>
<line x1="378.30" y1="215.12" x2="380.70" y2="215.12" stroke="#000" stroke-width="0.6"/>
<line x1="378.30" y1="216.66" x2="380.70" y2="216.66" stroke="#000" stroke-width="0.6"/>
<circle cx="385.14" cy="215.99" r="0.72" fill="#151515"/>
<circle cx="387.37" cy="217.14" r="0.72" fill="#151515"/>
<circle cx="384.60" cy="216.74" r="0.72" fill="#151515"/>
<circle cx="387.56" cy="215.59" r="0.72" fill="#151515"/>
<circle cx="387.65" cy="217.95" r="0.72" fill="#151515"/>
<circle cx="387.56" cy="217.08" r="0.72" fill="#151515"/>
<line x1="386.40" y1="216.32" x2="386.40" y2="217.85" stroke="#000" stroke-width="0.6"/>
<line x1="385.20" y1="216.32" x2="387.60" y2="216.32" stroke="#000" stroke-width="0.6"/>
<line x1="385.20" y1="217.85" x2="387.60" y2="217.85" stroke="#000" stroke-width="0.6"/>
<circle cx="394.94" cy="211.02" r="0.72" fill="#151515"/>
<circle cx="393.61" cy="229.29" r="0.72" fill="#151515"/>
<circle cx="394.59" cy="228.47" r="0.72" fill="#151515"/>
<circle cx="392.59" cy="226.54" r="0.72" fill="#151515"/>
<circle cx="394.34" cy="229.22" r="0.72" fill="#151515"/>
<circle cx="393.00" cy="227.56" r="0.72" fill="#151515"/>
<circle cx="394.80" cy="227.61" r="0.72" fill="#151515"/>
<line x1="393.30" y1="226.28" x2="393.30" y2="227.81" stroke="#000" stroke-width="0.6"/>
<line x1="392.10" y1="226.28" x2="394.50" y2="226.28" stroke="#000" stroke-width="0.6"/>
<line x1="392.10" y1="227.81" x2="394.50" y2="227.81" stroke="#000" stroke-width="0.6"/>
<circle cx="401.40" cy="217.08" r="0.72" fill="#151515"/>
<circle cx="399.52" cy="226.89" r="0.72" fill="#151515"/>
<circle cx="399.52" cy="222.11" r="0.72" fill="#151515"/>
<circle cx="398.67" cy="226.12" r="0.72" fill="#151515"/>
<circle cx="399.50" cy="223.95" r="0.72" fill="#151515"/>
<circle cx="400.08" cy="224.06" r="0.72" fill="#151515"/>
<circle cx="400.97" cy="226.45" r="0.72" fill="#151515"/>
<line x1="400.20" y1="222.54" x2="400.20" y2="224.84" stroke="#000" stroke-width="0.6"/>
<line x1="399.00" y1="222.54" x2="401.40" y2="222.54" stroke="#000" stroke-width="0.6"/>
<line x1="399.00" y1="224.84" x2="401.40" y2="224.84" stroke="#000" stroke-width="0.6"/>
<line x1="340.50" y1="197.00" x2="340.50" y2="264.80" stroke="#000" stroke-width="1.0"/>
<line x1="340.00" y1="264.30" x2="405.00" y2="264.30" stroke="#000" stroke-width="1.05"/>
<line x1="337.50" y1="264.30" x2="340.50" y2="264.30" stroke="#000" stroke-width="0.8"/>
<text x="335.10" y="266.60" font-size="6.4" text-anchor="end" font-weight="normal" fill="#000" stroke="#000" stroke-width="0.06">0</text>
<line x1="337.50" y1="253.47" x2="340.50" y2="253.47" stroke="#000" stroke-width="0.8"/>
<text x="335.10" y="255.77" font-size="6.4" text-anchor="end" font-weight="normal" fill="#000" stroke="#000" stroke-width="0.06">10</text>
<line x1="337.50" y1="242.64" x2="340.50" y2="242.64" stroke="#000" stroke-width="0.8"/>
<text x="335.10" y="244.94" font-size="6.4" text-anchor="end" font-weight="normal" fill="#000" stroke="#000" stroke-width="0.06">20</text>
<line x1="337.50" y1="231.81" x2="340.50" y2="231.81" stroke="#000" stroke-width="0.8"/>
<text x="335.10" y="234.11" font-size="6.4" text-anchor="end" font-weight="normal" fill="#000" stroke="#000" stroke-width="0.06">30</text>
<line x1="337.50" y1="220.98" x2="340.50" y2="220.98" stroke="#000" stroke-width="0.8"/>
<text x="335.10" y="223.28" font-size="6.4" text-anchor="end" font-weight="normal" fill="#000" stroke="#000" stroke-width="0.06">40</text>
<line x1="337.50" y1="210.15" x2="340.50" y2="210.15" stroke="#000" stroke-width="0.8"/>
<text x="335.10" y="212.45" font-size="6.4" text-anchor="end" font-weight="normal" fill="#000" stroke="#000" stroke-width="0.06">50</text>
<line x1="337.50" y1="199.32" x2="340.50" y2="199.32" stroke="#000" stroke-width="0.8"/>
<text x="335.10" y="201.62" font-size="6.4" text-anchor="end" font-weight="normal" fill="#000" stroke="#000" stroke-width="0.06">60</text>
<line x1="345.00" y1="264.30" x2="345.00" y2="267.10" stroke="#000" stroke-width="0.7"/>
<line x1="351.90" y1="264.30" x2="351.90" y2="267.10" stroke="#000" stroke-width="0.7"/>
<line x1="358.80" y1="264.30" x2="358.80" y2="267.10" stroke="#000" stroke-width="0.7"/>
<line x1="365.70" y1="264.30" x2="365.70" y2="267.10" stroke="#000" stroke-width="0.7"/>
<line x1="372.60" y1="264.30" x2="372.60" y2="267.10" stroke="#000" stroke-width="0.7"/>
<line x1="379.50" y1="264.30" x2="379.50" y2="267.10" stroke="#000" stroke-width="0.7"/>
<line x1="386.40" y1="264.30" x2="386.40" y2="267.10" stroke="#000" stroke-width="0.7"/>
<line x1="393.30" y1="264.30" x2="393.30" y2="267.10" stroke="#000" stroke-width="0.7"/>
<line x1="400.20" y1="264.30" x2="400.20" y2="267.10" stroke="#000" stroke-width="0.7"/>
<text x="347.80" y="270.20" font-size="6.3" text-anchor="end" font-weight="normal" fill="#000" transform="rotate(-90 347.80 270.20)" stroke="#000" stroke-width="0.15">No ADC</text>
<text x="354.70" y="270.20" font-size="6.3" text-anchor="end" font-weight="normal" fill="#000" transform="rotate(-90 354.70 270.20)" stroke="#000" stroke-width="0.15">CD45.2-MMAE</text>
<text x="361.60" y="270.20" font-size="6.3" text-anchor="end" font-weight="normal" fill="#000" transform="rotate(-90 361.60 270.20)" stroke="#000" stroke-width="0.15">CD45.1-MMAE</text>
<text x="368.50" y="270.20" font-size="6.3" text-anchor="end" font-weight="normal" fill="#000" transform="rotate(-90 368.50 270.20)" stroke="#000" stroke-width="0.15">CD45.2-DUO</text>
<text x="375.40" y="270.20" font-size="6.3" text-anchor="end" font-weight="normal" fill="#000" transform="rotate(-90 375.40 270.20)" stroke="#000" stroke-width="0.15">CD45.1-DUO</text>
<text x="382.30" y="270.20" font-size="6.3" text-anchor="end" font-weight="normal" fill="#000" transform="rotate(-90 382.30 270.20)" stroke="#000" stroke-width="0.15">CD45.2-PNU</text>
<text x="389.20" y="270.20" font-size="6.3" text-anchor="end" font-weight="normal" fill="#000" transform="rotate(-90 389.20 270.20)" stroke="#000" stroke-width="0.15">CD45.1-PNU</text>
<text x="396.10" y="270.20" font-size="6.3" text-anchor="end" font-weight="normal" fill="#000" transform="rotate(-90 396.10 270.20)" stroke="#000" stroke-width="0.15">CD45.2-PBD</text>
<text x="403.00" y="270.20" font-size="6.3" text-anchor="end" font-weight="normal" fill="#000" transform="rotate(-90 403.00 270.20)" stroke="#000" stroke-width="0.15">CD45.1-PBD</text>
<text x="354.00" y="168.80" font-size="8.3" text-anchor="start" font-weight="normal" fill="#000" textLength="38.00" lengthAdjust="spacingAndGlyphs" stroke="#000" stroke-width="0.1">Hematocrit</text>
<line x1="354.30" y1="169.40" x2="391.70" y2="169.40" stroke="#888" stroke-width="0.7"/>
<text x="322.30" y="230.20" font-size="6.8" text-anchor="middle" font-weight="normal" fill="#000" textLength="24.80" lengthAdjust="spacingAndGlyphs" transform="rotate(-90 322.30 230.20)" stroke="#000" stroke-width="0.22">Hematocrit</text>
<rect x="449.60" y="220.78" width="4.40" height="43.62" fill="#bdbcc2"/>
<rect x="456.67" y="223.32" width="4.40" height="41.08" fill="#c8102e"/>
<rect x="463.74" y="224.49" width="4.40" height="39.91" fill="#e0889a"/>
<rect x="470.81" y="222.61" width="4.40" height="41.79" fill="#184b86"/>
<rect x="477.88" y="222.61" width="4.40" height="41.79" fill="#89a8c8"/>
<rect x="484.95" y="257.36" width="4.40" height="7.04" fill="#3aab48"/>
<rect x="492.02" y="226.32" width="4.40" height="38.08" fill="#a3d7a3"/>
<rect x="499.09" y="242.52" width="4.40" height="21.88" fill="#ff8a00"/>
<rect x="506.16" y="225.90" width="4.40" height="38.50" fill="#f7c98c"/>
<line x1="447.50" y1="236.50" x2="513.00" y2="236.50" stroke="#a09890" stroke-width="0.6"/>
<circle cx="452.99" cy="213.22" r="0.72" fill="#151515"/>
<circle cx="452.35" cy="211.82" r="0.72" fill="#151515"/>
<circle cx="450.04" cy="224.06" r="0.72" fill="#151515"/>
<circle cx="451.36" cy="220.68" r="0.72" fill="#151515"/>
<circle cx="452.56" cy="226.69" r="0.72" fill="#151515"/>
<circle cx="450.85" cy="223.71" r="0.72" fill="#151515"/>
<circle cx="452.03" cy="223.01" r="0.72" fill="#151515"/>
<circle cx="451.65" cy="217.79" r="0.72" fill="#151515"/>
<line x1="451.80" y1="218.29" x2="451.80" y2="223.27" stroke="#000" stroke-width="0.6"/>
<line x1="450.60" y1="218.29" x2="453.00" y2="218.29" stroke="#000" stroke-width="0.6"/>
<line x1="450.60" y1="223.27" x2="453.00" y2="223.27" stroke="#000" stroke-width="0.6"/>
<circle cx="458.42" cy="209.94" r="0.72" fill="#151515"/>
<circle cx="459.01" cy="209.47" r="0.72" fill="#151515"/>
<circle cx="458.14" cy="217.45" r="0.72" fill="#151515"/>
<circle cx="458.28" cy="231.44" r="0.72" fill="#151515"/>
<circle cx="458.48" cy="222.22" r="0.72" fill="#151515"/>
<circle cx="459.47" cy="224.03" r="0.72" fill="#151515"/>
<circle cx="457.99" cy="229.59" r="0.72" fill="#151515"/>
<circle cx="457.79" cy="225.75" r="0.72" fill="#151515"/>
<circle cx="459.70" cy="228.81" r="0.72" fill="#151515"/>
<line x1="458.87" y1="220.83" x2="458.87" y2="225.81" stroke="#000" stroke-width="0.6"/>
<line x1="457.67" y1="220.83" x2="460.07" y2="220.83" stroke="#000" stroke-width="0.6"/>
<line x1="457.67" y1="225.81" x2="460.07" y2="225.81" stroke="#000" stroke-width="0.6"/>
<circle cx="464.47" cy="218.39" r="0.72" fill="#151515"/>
<circle cx="464.65" cy="219.33" r="0.72" fill="#151515"/>
<circle cx="464.48" cy="228.44" r="0.72" fill="#151515"/>
<circle cx="466.58" cy="222.66" r="0.72" fill="#151515"/>
<circle cx="466.69" cy="226.25" r="0.72" fill="#151515"/>
<circle cx="464.79" cy="224.74" r="0.72" fill="#151515"/>
<circle cx="465.59" cy="228.42" r="0.72" fill="#151515"/>
<circle cx="467.15" cy="223.77" r="0.72" fill="#151515"/>
<line x1="465.94" y1="222.83" x2="465.94" y2="226.15" stroke="#000" stroke-width="0.6"/>
<line x1="464.74" y1="222.83" x2="467.14" y2="222.83" stroke="#000" stroke-width="0.6"/>
<line x1="464.74" y1="226.15" x2="467.14" y2="226.15" stroke="#000" stroke-width="0.6"/>
<circle cx="471.47" cy="214.63" r="0.72" fill="#151515"/>
<circle cx="474.52" cy="222.28" r="0.72" fill="#151515"/>
<circle cx="472.75" cy="225.35" r="0.72" fill="#151515"/>
<circle cx="473.05" cy="224.52" r="0.72" fill="#151515"/>
<circle cx="473.54" cy="224.94" r="0.72" fill="#151515"/>
<circle cx="473.97" cy="225.14" r="0.72" fill="#151515"/>
<circle cx="474.17" cy="223.42" r="0.72" fill="#151515"/>
<line x1="473.01" y1="221.12" x2="473.01" y2="224.11" stroke="#000" stroke-width="0.6"/>
<line x1="471.81" y1="221.12" x2="474.21" y2="221.12" stroke="#000" stroke-width="0.6"/>
<line x1="471.81" y1="224.11" x2="474.21" y2="224.11" stroke="#000" stroke-width="0.6"/>
<circle cx="481.82" cy="224.12" r="0.72" fill="#151515"/>
<circle cx="481.12" cy="224.51" r="0.72" fill="#151515"/>
<circle cx="480.66" cy="223.94" r="0.72" fill="#151515"/>
<circle cx="480.47" cy="226.73" r="0.72" fill="#151515"/>
<circle cx="478.35" cy="224.02" r="0.72" fill="#151515"/>
<circle cx="479.47" cy="221.91" r="0.72" fill="#151515"/>
<line x1="480.08" y1="221.29" x2="480.08" y2="223.94" stroke="#000" stroke-width="0.6"/>
<line x1="478.88" y1="221.29" x2="481.28" y2="221.29" stroke="#000" stroke-width="0.6"/>
<line x1="478.88" y1="223.94" x2="481.28" y2="223.94" stroke="#000" stroke-width="0.6"/>
<circle cx="488.32" cy="250.31" r="0.72" fill="#151515"/>
<circle cx="487.55" cy="259.33" r="0.72" fill="#151515"/>
<circle cx="485.92" cy="257.31" r="0.72" fill="#151515"/>
<circle cx="488.11" cy="260.88" r="0.72" fill="#151515"/>
<circle cx="488.60" cy="259.10" r="0.72" fill="#151515"/>
<circle cx="487.32" cy="258.23" r="0.72" fill="#151515"/>
<circle cx="486.62" cy="256.40" r="0.72" fill="#151515"/>
<line x1="487.15" y1="256.53" x2="487.15" y2="258.19" stroke="#000" stroke-width="0.6"/>
<line x1="485.95" y1="256.53" x2="488.35" y2="256.53" stroke="#000" stroke-width="0.6"/>
<line x1="485.95" y1="258.19" x2="488.35" y2="258.19" stroke="#000" stroke-width="0.6"/>
<circle cx="495.43" cy="217.45" r="0.72" fill="#151515"/>
<circle cx="493.13" cy="219.33" r="0.72" fill="#151515"/>
<circle cx="495.82" cy="229.18" r="0.72" fill="#151515"/>
<circle cx="494.68" cy="232.55" r="0.72" fill="#151515"/>
<circle cx="493.13" cy="227.18" r="0.72" fill="#151515"/>
<circle cx="492.72" cy="224.62" r="0.72" fill="#151515"/>
<circle cx="493.30" cy="229.04" r="0.72" fill="#151515"/>
<circle cx="494.50" cy="227.17" r="0.72" fill="#151515"/>
<line x1="494.22" y1="224.33" x2="494.22" y2="228.32" stroke="#000" stroke-width="0.6"/>
<line x1="493.02" y1="224.33" x2="495.42" y2="224.33" stroke="#000" stroke-width="0.6"/>
<line x1="493.02" y1="228.32" x2="495.42" y2="228.32" stroke="#000" stroke-width="0.6"/>
<circle cx="502.99" cy="238.11" r="0.72" fill="#151515"/>
<circle cx="499.98" cy="241.98" r="0.72" fill="#151515"/>
<circle cx="502.74" cy="244.40" r="0.72" fill="#151515"/>
<circle cx="501.45" cy="240.45" r="0.72" fill="#151515"/>
<circle cx="501.51" cy="244.18" r="0.72" fill="#151515"/>
<circle cx="501.51" cy="243.52" r="0.72" fill="#151515"/>
<circle cx="500.44" cy="245.74" r="0.72" fill="#151515"/>
<line x1="501.29" y1="241.53" x2="501.29" y2="243.52" stroke="#000" stroke-width="0.6"/>
<line x1="500.09" y1="241.53" x2="502.49" y2="241.53" stroke="#000" stroke-width="0.6"/>
<line x1="500.09" y1="243.52" x2="502.49" y2="243.52" stroke="#000" stroke-width="0.6"/>
<circle cx="507.60" cy="219.80" r="0.72" fill="#151515"/>
<circle cx="509.79" cy="222.14" r="0.72" fill="#151515"/>
<circle cx="507.43" cy="224.45" r="0.72" fill="#151515"/>
<circle cx="508.62" cy="224.06" r="0.72" fill="#151515"/>
<circle cx="509.55" cy="224.88" r="0.72" fill="#151515"/>
<circle cx="507.23" cy="225.89" r="0.72" fill="#151515"/>
<circle cx="508.53" cy="228.14" r="0.72" fill="#151515"/>
<circle cx="506.83" cy="224.85" r="0.72" fill="#151515"/>
<line x1="508.36" y1="224.24" x2="508.36" y2="227.56" stroke="#000" stroke-width="0.6"/>
<line x1="507.16" y1="224.24" x2="509.56" y2="224.24" stroke="#000" stroke-width="0.6"/>
<line x1="507.16" y1="227.56" x2="509.56" y2="227.56" stroke="#000" stroke-width="0.6"/>
<line x1="447.50" y1="196.50" x2="447.50" y2="264.90" stroke="#000" stroke-width="1.0"/>
<line x1="447.00" y1="264.40" x2="513.00" y2="264.40" stroke="#000" stroke-width="1.05"/>
<line x1="444.50" y1="264.40" x2="447.50" y2="264.40" stroke="#000" stroke-width="0.8"/>
<text x="441.00" y="266.70" font-size="6.0" text-anchor="end" font-weight="normal" fill="#000" stroke="#000" stroke-width="0.06">0</text>
<line x1="444.50" y1="255.01" x2="447.50" y2="255.01" stroke="#000" stroke-width="0.8"/>
<text x="441.00" y="257.31" font-size="6.0" text-anchor="end" font-weight="normal" fill="#000" stroke="#000" stroke-width="0.06">200</text>
<line x1="444.50" y1="245.62" x2="447.50" y2="245.62" stroke="#000" stroke-width="0.8"/>
<text x="441.00" y="247.92" font-size="6.0" text-anchor="end" font-weight="normal" fill="#000" stroke="#000" stroke-width="0.06">400</text>
<line x1="444.50" y1="236.23" x2="447.50" y2="236.23" stroke="#000" stroke-width="0.8"/>
<text x="441.00" y="238.53" font-size="6.0" text-anchor="end" font-weight="normal" fill="#000" stroke="#000" stroke-width="0.06">600</text>
<line x1="444.50" y1="226.84" x2="447.50" y2="226.84" stroke="#000" stroke-width="0.8"/>
<text x="441.00" y="229.14" font-size="6.0" text-anchor="end" font-weight="normal" fill="#000" stroke="#000" stroke-width="0.06">800</text>
<line x1="444.50" y1="217.45" x2="447.50" y2="217.45" stroke="#000" stroke-width="0.8"/>
<text x="441.00" y="219.75" font-size="6.0" text-anchor="end" font-weight="normal" fill="#000" stroke="#000" stroke-width="0.06">1000</text>
<line x1="444.50" y1="208.06" x2="447.50" y2="208.06" stroke="#000" stroke-width="0.8"/>
<text x="441.00" y="210.36" font-size="6.0" text-anchor="end" font-weight="normal" fill="#000" stroke="#000" stroke-width="0.06">1200</text>
<line x1="444.50" y1="198.67" x2="447.50" y2="198.67" stroke="#000" stroke-width="0.8"/>
<text x="441.00" y="200.97" font-size="6.0" text-anchor="end" font-weight="normal" fill="#000" stroke="#000" stroke-width="0.06">1400</text>
<line x1="451.80" y1="264.40" x2="451.80" y2="267.20" stroke="#000" stroke-width="0.7"/>
<line x1="458.87" y1="264.40" x2="458.87" y2="267.20" stroke="#000" stroke-width="0.7"/>
<line x1="465.94" y1="264.40" x2="465.94" y2="267.20" stroke="#000" stroke-width="0.7"/>
<line x1="473.01" y1="264.40" x2="473.01" y2="267.20" stroke="#000" stroke-width="0.7"/>
<line x1="480.08" y1="264.40" x2="480.08" y2="267.20" stroke="#000" stroke-width="0.7"/>
<line x1="487.15" y1="264.40" x2="487.15" y2="267.20" stroke="#000" stroke-width="0.7"/>
<line x1="494.22" y1="264.40" x2="494.22" y2="267.20" stroke="#000" stroke-width="0.7"/>
<line x1="501.29" y1="264.40" x2="501.29" y2="267.20" stroke="#000" stroke-width="0.7"/>
<line x1="508.36" y1="264.40" x2="508.36" y2="267.20" stroke="#000" stroke-width="0.7"/>
<text x="454.60" y="270.30" font-size="6.3" text-anchor="end" font-weight="normal" fill="#000" transform="rotate(-90 454.60 270.30)" stroke="#000" stroke-width="0.15">No ADC</text>
<text x="461.67" y="270.30" font-size="6.3" text-anchor="end" font-weight="normal" fill="#000" transform="rotate(-90 461.67 270.30)" stroke="#000" stroke-width="0.15">CD45.2-MMAE</text>
<text x="468.74" y="270.30" font-size="6.3" text-anchor="end" font-weight="normal" fill="#000" transform="rotate(-90 468.74 270.30)" stroke="#000" stroke-width="0.15">CD45.1-MMAE</text>
<text x="475.81" y="270.30" font-size="6.3" text-anchor="end" font-weight="normal" fill="#000" transform="rotate(-90 475.81 270.30)" stroke="#000" stroke-width="0.15">CD45.2-DUO</text>
<text x="482.88" y="270.30" font-size="6.3" text-anchor="end" font-weight="normal" fill="#000" transform="rotate(-90 482.88 270.30)" stroke="#000" stroke-width="0.15">CD45.1-DUO</text>
<text x="489.95" y="270.30" font-size="6.3" text-anchor="end" font-weight="normal" fill="#000" transform="rotate(-90 489.95 270.30)" stroke="#000" stroke-width="0.15">CD45.2-PNU</text>
<text x="497.02" y="270.30" font-size="6.3" text-anchor="end" font-weight="normal" fill="#000" transform="rotate(-90 497.02 270.30)" stroke="#000" stroke-width="0.15">CD45.1-PNU</text>
<text x="504.09" y="270.30" font-size="6.3" text-anchor="end" font-weight="normal" fill="#000" transform="rotate(-90 504.09 270.30)" stroke="#000" stroke-width="0.15">CD45.2-PBD</text>
<text x="511.16" y="270.30" font-size="6.3" text-anchor="end" font-weight="normal" fill="#000" transform="rotate(-90 511.16 270.30)" stroke="#000" stroke-width="0.15">CD45.1-PBD</text>
<text x="455.80" y="168.80" font-size="8.3" text-anchor="start" font-weight="normal" fill="#000" textLength="48.80" lengthAdjust="spacingAndGlyphs" stroke="#000" stroke-width="0.1">Platelet Count</text>
<line x1="456.10" y1="169.40" x2="504.30" y2="169.40" stroke="#888" stroke-width="0.7"/>
<text x="421.70" y="229.80" font-size="6.8" text-anchor="middle" font-weight="normal" fill="#000" textLength="61.40" lengthAdjust="spacingAndGlyphs" transform="rotate(-90 421.70 229.80)" stroke="#000" stroke-width="0.22">Platelet count (×10<tspan font-size="4.2" dy="-2.2">9</tspan><tspan dy="2.2">/μL)</tspan></text>
<circle cx="283.50" cy="241.00" r="0.72" fill="#111"/>
<circle cx="283.50" cy="243.20" r="0.72" fill="#111"/>
<circle cx="283.50" cy="245.40" r="0.72" fill="#111"/>
<circle cx="283.50" cy="247.60" r="0.72" fill="#111"/>
<circle cx="486.60" cy="207.40" r="0.72" fill="#111"/>
<circle cx="486.60" cy="209.85" r="0.72" fill="#111"/>
<circle cx="486.60" cy="212.30" r="0.72" fill="#111"/>
<circle cx="486.60" cy="214.75" r="0.72" fill="#111"/>
<circle cx="501.10" cy="207.40" r="0.72" fill="#111"/>
<circle cx="501.10" cy="209.85" r="0.72" fill="#111"/>
<circle cx="501.10" cy="212.30" r="0.72" fill="#111"/>
<circle cx="501.10" cy="214.75" r="0.72" fill="#111"/>
<text x="297.60" y="239.40" font-size="5.0" text-anchor="start" font-weight="normal" fill="#777" transform="rotate(-90 297.60 239.40)">ns</text>
<rect x="0.5" y="0.5" width="519" height="316" fill="none" stroke="#444" stroke-width="1"/>
</svg></body></html>
